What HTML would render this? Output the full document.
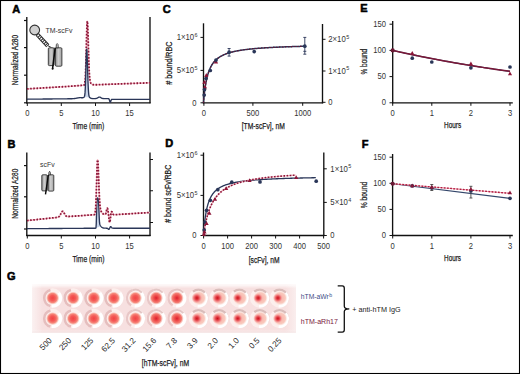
<!DOCTYPE html>
<html><head><meta charset="utf-8"><style>
html,body{margin:0;padding:0;background:#fff;}
svg{display:block;font-family:"Liberation Sans", sans-serif;}
</style></head><body>
<svg width="520" height="374" viewBox="0 0 520 374">
<rect width="520" height="374" fill="#fff"/>
<text x="12.20" y="12.60" font-size="11" text-anchor="start" fill="#000" font-weight="bold" stroke="#000" stroke-width="0.55">A</text>
<line x1="26.80" y1="17.00" x2="26.80" y2="103.20" stroke="#111" stroke-width="1.35" />
<line x1="26.20" y1="102.80" x2="150.60" y2="102.80" stroke="#111" stroke-width="1.35" />
<line x1="150.00" y1="17.00" x2="150.00" y2="103.20" stroke="#111" stroke-width="1.35" />
<line x1="24.00" y1="20.50" x2="27.00" y2="20.50" stroke="#111" stroke-width="1.2" />
<line x1="24.00" y1="47.60" x2="27.00" y2="47.60" stroke="#111" stroke-width="1.2" />
<line x1="24.00" y1="75.20" x2="27.00" y2="75.20" stroke="#111" stroke-width="1.2" />
<line x1="24.00" y1="102.80" x2="27.00" y2="102.80" stroke="#111" stroke-width="1.2" />
<line x1="27.30" y1="103.00" x2="27.30" y2="106.00" stroke="#111" stroke-width="1" />
<text transform="translate(27.30 116.00) scale(0.93 1)" font-size="8.2" text-anchor="middle" fill="#333" font-weight="normal" >0</text>
<line x1="61.30" y1="103.00" x2="61.30" y2="106.00" stroke="#111" stroke-width="1" />
<text transform="translate(61.30 116.00) scale(0.93 1)" font-size="8.2" text-anchor="middle" fill="#333" font-weight="normal" >5</text>
<line x1="95.50" y1="103.00" x2="95.50" y2="106.00" stroke="#111" stroke-width="1" />
<text transform="translate(95.50 116.00) scale(0.93 1)" font-size="8.2" text-anchor="middle" fill="#333" font-weight="normal" >10</text>
<line x1="129.60" y1="103.00" x2="129.60" y2="106.00" stroke="#111" stroke-width="1" />
<text transform="translate(129.60 116.00) scale(0.93 1)" font-size="8.2" text-anchor="middle" fill="#333" font-weight="normal" >15</text>
<text x="88.40" y="129.10" font-size="9.6" text-anchor="middle" fill="#1a1a1a" font-weight="normal" textLength="31.8" lengthAdjust="spacingAndGlyphs" stroke="#1a1a1a" stroke-width="0.25">Time (min)</text>
<text x="18.40" y="60.00" font-size="9.6" text-anchor="middle" fill="#1a1a1a" font-weight="normal" textLength="50.4" lengthAdjust="spacingAndGlyphs" transform="rotate(-90 18.40 60.00)" stroke="#1a1a1a" stroke-width="0.25">Normalized A280</text>
<path d="M27.00,88.90 L27.25,88.88 L27.50,88.87 L27.75,88.85 L28.00,88.84 L28.25,88.82 L28.50,88.81 L28.75,88.79 L29.00,88.78 L29.25,88.76 L29.50,88.75 L29.75,88.73 L30.00,88.72 L30.25,88.70 L30.50,88.69 L30.75,88.67 L31.00,88.66 L31.25,88.64 L31.50,88.63 L31.75,88.61 L32.00,88.60 L32.25,88.58 L32.50,88.57 L32.75,88.55 L33.00,88.54 L33.25,88.52 L33.50,88.51 L33.75,88.49 L34.00,88.48 L34.25,88.46 L34.50,88.45 L34.75,88.43 L35.00,88.42 L35.25,88.40 L35.50,88.39 L35.75,88.37 L36.00,88.36 L36.25,88.34 L36.50,88.33 L36.75,88.31 L37.00,88.30 L37.25,88.28 L37.50,88.27 L37.75,88.25 L38.00,88.23 L38.25,88.22 L38.50,88.20 L38.75,88.19 L39.00,88.17 L39.25,88.16 L39.50,88.14 L39.75,88.13 L40.00,88.11 L40.25,88.10 L40.50,88.08 L40.75,88.07 L41.00,88.05 L41.25,88.04 L41.50,88.02 L41.75,88.01 L42.00,87.99 L42.25,87.98 L42.50,87.96 L42.75,87.95 L43.00,87.93 L43.25,87.92 L43.50,87.90 L43.75,87.89 L44.00,87.87 L44.25,87.86 L44.50,87.84 L44.75,87.83 L45.00,87.81 L45.25,87.80 L45.50,87.78 L45.75,87.77 L46.00,87.75 L46.25,87.74 L46.50,87.72 L46.75,87.71 L47.00,87.69 L47.25,87.68 L47.50,87.66 L47.75,87.65 L48.00,87.63 L48.25,87.62 L48.50,87.60 L48.75,87.58 L49.00,87.57 L49.25,87.55 L49.50,87.54 L49.75,87.52 L50.00,87.51 L50.25,87.49 L50.50,87.48 L50.75,87.46 L51.00,87.45 L51.25,87.43 L51.50,87.42 L51.75,87.40 L52.00,87.39 L52.25,87.37 L52.50,87.36 L52.75,87.34 L53.00,87.33 L53.25,87.31 L53.50,87.30 L53.75,87.28 L54.00,87.27 L54.25,87.25 L54.50,87.24 L54.75,87.22 L55.00,87.21 L55.25,87.19 L55.50,87.18 L55.75,87.16 L56.00,87.15 L56.25,87.13 L56.50,87.12 L56.75,87.10 L57.00,87.09 L57.25,87.07 L57.50,87.06 L57.75,87.04 L58.00,87.03 L58.25,87.01 L58.50,87.00 L58.75,86.98 L59.00,86.97 L59.25,86.95 L59.50,86.93 L59.75,86.92 L60.00,86.90 L60.25,86.89 L60.50,86.87 L60.75,86.86 L61.00,86.84 L61.25,86.83 L61.50,86.81 L61.75,86.80 L62.00,86.78 L62.25,86.77 L62.50,86.75 L62.75,86.74 L63.00,86.72 L63.25,86.71 L63.50,86.69 L63.75,86.68 L64.00,86.66 L64.25,86.65 L64.50,86.63 L64.75,86.62 L65.00,86.60 L65.25,86.59 L65.50,86.57 L65.75,86.56 L66.00,86.54 L66.25,86.53 L66.50,86.51 L66.75,86.50 L67.00,86.48 L67.25,86.47 L67.50,86.45 L67.75,86.44 L68.00,86.42 L68.25,86.41 L68.50,86.39 L68.75,86.38 L69.00,86.36 L69.25,86.35 L69.50,86.33 L69.75,86.32 L70.00,86.30 L70.25,86.28 L70.50,86.26 L70.75,86.24 L71.00,86.22 L71.25,86.21 L71.50,86.19 L71.75,86.17 L72.00,86.15 L72.25,86.13 L72.50,86.11 L72.75,86.09 L73.00,86.08 L73.25,86.06 L73.50,86.04 L73.75,86.02 L74.00,86.00 L74.25,85.98 L74.50,85.96 L74.75,85.94 L75.00,85.92 L75.25,85.91 L75.50,85.89 L75.75,85.87 L76.00,85.85 L76.25,85.83 L76.50,85.81 L76.75,85.79 L77.00,85.77 L77.25,85.76 L77.50,85.74 L77.75,85.72 L78.00,85.70 L78.25,85.68 L78.50,85.66 L78.75,85.64 L79.00,85.62 L79.25,85.61 L79.50,85.59 L79.75,85.57 L80.00,85.55 L80.25,85.53 L80.50,85.51 L80.75,85.49 L81.00,85.47 L81.25,85.46 L81.50,85.44 L81.75,85.42 L82.00,85.40 L82.25,85.38 L82.50,85.36 L82.75,85.34 L83.00,85.32 L83.25,85.30 L83.50,85.27 L83.75,85.21 L84.00,85.10 L84.25,84.86 L84.50,84.38 L84.75,83.44 L85.00,81.75 L85.25,78.90 L85.50,74.48 L85.75,68.18 L86.00,59.97 L86.25,50.29 L86.50,40.12 L86.75,30.88 L87.00,24.11 L87.25,21.09 L87.50,22.17 L87.75,26.68 L88.00,33.82 L88.25,42.47 L88.50,51.41 L88.75,59.65 L89.00,66.58 L89.25,71.96 L89.50,75.86 L89.75,78.53 L90.00,80.30 L90.25,81.63 L90.50,82.40 L90.75,82.94 L91.00,83.33 L91.25,83.64 L91.50,83.89 L91.75,84.09 L92.00,84.26 L92.25,84.39 L92.50,84.50 L92.75,84.59 L93.00,84.65 L93.25,84.70 L93.50,84.73 L93.75,84.76 L94.00,84.77 L94.25,84.78 L94.50,84.79 L94.75,84.79 L95.00,84.79 L95.25,84.78 L95.50,84.78 L95.75,84.77 L96.00,84.76 L96.25,84.75 L96.50,84.74 L96.75,84.74 L97.00,84.73 L97.25,84.72 L97.50,84.71 L97.75,84.70 L98.00,84.69 L98.25,84.68 L98.50,84.67 L98.75,84.66 L99.00,84.65 L99.25,84.64 L99.50,84.64 L99.75,84.63 L100.00,84.62 L100.25,84.61 L100.50,84.60 L100.75,84.59 L101.00,84.58 L101.25,84.57 L101.50,84.56 L101.75,84.55 L102.00,84.54 L102.25,84.54 L102.50,84.53 L102.75,84.52 L103.00,84.51 L103.25,84.50 L103.50,84.49 L103.75,84.48 L104.00,84.47 L104.25,84.46 L104.50,84.45 L104.75,84.44 L105.00,84.43 L105.25,84.43 L105.50,84.42 L105.75,84.41 L106.00,84.40 L106.25,84.39 L106.50,84.38 L106.75,84.37 L107.00,84.36 L107.25,84.35 L107.50,84.34 L107.75,84.33 L108.00,84.33 L108.25,84.32 L108.50,84.31 L108.75,84.30 L109.00,84.29 L109.25,84.28 L109.50,84.27 L109.75,84.26 L110.00,84.25 L110.25,84.24 L110.50,84.23 L110.75,84.22 L111.00,84.22 L111.25,84.21 L111.50,84.20 L111.75,84.19 L112.00,84.18 L112.25,84.17 L112.50,84.16 L112.75,84.15 L113.00,84.14 L113.25,84.13 L113.50,84.12 L113.75,84.11 L114.00,84.11 L114.25,84.10 L114.50,84.09 L114.75,84.08 L115.00,84.07 L115.25,84.06 L115.50,84.05 L115.75,84.04 L116.00,84.03 L116.25,84.02 L116.50,84.01 L116.75,84.01 L117.00,84.00 L117.25,83.99 L117.50,83.98 L117.75,83.97 L118.00,83.96 L118.25,83.95 L118.50,83.94 L118.75,83.93 L119.00,83.92 L119.25,83.91 L119.50,83.90 L119.75,83.90 L120.00,83.89 L120.25,83.88 L120.50,83.87 L120.75,83.86 L121.00,83.85 L121.25,83.84 L121.50,83.83 L121.75,83.82 L122.00,83.81 L122.25,83.80 L122.50,83.80 L122.75,83.79 L123.00,83.78 L123.25,83.77 L123.50,83.76 L123.75,83.75 L124.00,83.74 L124.25,83.73 L124.50,83.72 L124.75,83.71 L125.00,83.70 L125.25,83.69 L125.50,83.69 L125.75,83.68 L126.00,83.67 L126.25,83.66 L126.50,83.65 L126.75,83.64 L127.00,83.63 L127.25,83.62 L127.50,83.61 L127.75,83.60 L128.00,83.59 L128.25,83.59 L128.50,83.58 L128.75,83.57 L129.00,83.56 L129.25,83.55 L129.50,83.54 L129.75,83.53 L130.00,83.52 L130.25,83.51 L130.50,83.50 L130.75,83.49 L131.00,83.48 L131.25,83.48 L131.50,83.47 L131.75,83.46 L132.00,83.45 L132.25,83.44 L132.50,83.43 L132.75,83.42 L133.00,83.41 L133.25,83.40 L133.50,83.39 L133.75,83.38 L134.00,83.38 L134.25,83.37 L134.50,83.36 L134.75,83.35 L135.00,83.34 L135.25,83.33 L135.50,83.32 L135.75,83.31 L136.00,83.30 L136.25,83.29 L136.50,83.28 L136.75,83.27 L137.00,83.27 L137.25,83.26 L137.50,83.25 L137.75,83.24 L138.00,83.23 L138.25,83.22 L138.50,83.21 L138.75,83.20 L139.00,83.19 L139.25,83.18 L139.50,83.17 L139.75,83.16 L140.00,83.16 L140.25,83.15 L140.50,83.14 L140.75,83.13 L141.00,83.12 L141.25,83.11 L141.50,83.10 L141.75,83.09 L142.00,83.08 L142.25,83.07 L142.50,83.06 L142.75,83.06 L143.00,83.05 L143.25,83.04 L143.50,83.03 L143.75,83.02 L144.00,83.01 L144.25,83.00 L144.50,82.99 L144.75,82.98 L145.00,82.97 L145.25,82.96 L145.50,82.95 L145.75,82.95 L146.00,82.94 L146.25,82.93 L146.50,82.92 L146.75,82.91 L147.00,82.90 L147.25,82.89 L147.50,82.88 L147.75,82.87 L148.00,82.86 L148.25,82.85 L148.50,82.85 L148.75,82.84 L149.00,82.83 L149.25,82.82 L149.50,82.81 L149.75,82.80 L150.00,82.79" stroke="#f3b4c0" stroke-width="1.35" fill="none" stroke-linejoin="round" />
<path d="M27.00,88.90 L27.25,88.88 L27.50,88.87 L27.75,88.85 L28.00,88.84 L28.25,88.82 L28.50,88.81 L28.75,88.79 L29.00,88.78 L29.25,88.76 L29.50,88.75 L29.75,88.73 L30.00,88.72 L30.25,88.70 L30.50,88.69 L30.75,88.67 L31.00,88.66 L31.25,88.64 L31.50,88.63 L31.75,88.61 L32.00,88.60 L32.25,88.58 L32.50,88.57 L32.75,88.55 L33.00,88.54 L33.25,88.52 L33.50,88.51 L33.75,88.49 L34.00,88.48 L34.25,88.46 L34.50,88.45 L34.75,88.43 L35.00,88.42 L35.25,88.40 L35.50,88.39 L35.75,88.37 L36.00,88.36 L36.25,88.34 L36.50,88.33 L36.75,88.31 L37.00,88.30 L37.25,88.28 L37.50,88.27 L37.75,88.25 L38.00,88.23 L38.25,88.22 L38.50,88.20 L38.75,88.19 L39.00,88.17 L39.25,88.16 L39.50,88.14 L39.75,88.13 L40.00,88.11 L40.25,88.10 L40.50,88.08 L40.75,88.07 L41.00,88.05 L41.25,88.04 L41.50,88.02 L41.75,88.01 L42.00,87.99 L42.25,87.98 L42.50,87.96 L42.75,87.95 L43.00,87.93 L43.25,87.92 L43.50,87.90 L43.75,87.89 L44.00,87.87 L44.25,87.86 L44.50,87.84 L44.75,87.83 L45.00,87.81 L45.25,87.80 L45.50,87.78 L45.75,87.77 L46.00,87.75 L46.25,87.74 L46.50,87.72 L46.75,87.71 L47.00,87.69 L47.25,87.68 L47.50,87.66 L47.75,87.65 L48.00,87.63 L48.25,87.62 L48.50,87.60 L48.75,87.58 L49.00,87.57 L49.25,87.55 L49.50,87.54 L49.75,87.52 L50.00,87.51 L50.25,87.49 L50.50,87.48 L50.75,87.46 L51.00,87.45 L51.25,87.43 L51.50,87.42 L51.75,87.40 L52.00,87.39 L52.25,87.37 L52.50,87.36 L52.75,87.34 L53.00,87.33 L53.25,87.31 L53.50,87.30 L53.75,87.28 L54.00,87.27 L54.25,87.25 L54.50,87.24 L54.75,87.22 L55.00,87.21 L55.25,87.19 L55.50,87.18 L55.75,87.16 L56.00,87.15 L56.25,87.13 L56.50,87.12 L56.75,87.10 L57.00,87.09 L57.25,87.07 L57.50,87.06 L57.75,87.04 L58.00,87.03 L58.25,87.01 L58.50,87.00 L58.75,86.98 L59.00,86.97 L59.25,86.95 L59.50,86.93 L59.75,86.92 L60.00,86.90 L60.25,86.89 L60.50,86.87 L60.75,86.86 L61.00,86.84 L61.25,86.83 L61.50,86.81 L61.75,86.80 L62.00,86.78 L62.25,86.77 L62.50,86.75 L62.75,86.74 L63.00,86.72 L63.25,86.71 L63.50,86.69 L63.75,86.68 L64.00,86.66 L64.25,86.65 L64.50,86.63 L64.75,86.62 L65.00,86.60 L65.25,86.59 L65.50,86.57 L65.75,86.56 L66.00,86.54 L66.25,86.53 L66.50,86.51 L66.75,86.50 L67.00,86.48 L67.25,86.47 L67.50,86.45 L67.75,86.44 L68.00,86.42 L68.25,86.41 L68.50,86.39 L68.75,86.38 L69.00,86.36 L69.25,86.35 L69.50,86.33 L69.75,86.32 L70.00,86.30 L70.25,86.28 L70.50,86.26 L70.75,86.24 L71.00,86.22 L71.25,86.21 L71.50,86.19 L71.75,86.17 L72.00,86.15 L72.25,86.13 L72.50,86.11 L72.75,86.09 L73.00,86.08 L73.25,86.06 L73.50,86.04 L73.75,86.02 L74.00,86.00 L74.25,85.98 L74.50,85.96 L74.75,85.94 L75.00,85.92 L75.25,85.91 L75.50,85.89 L75.75,85.87 L76.00,85.85 L76.25,85.83 L76.50,85.81 L76.75,85.79 L77.00,85.77 L77.25,85.76 L77.50,85.74 L77.75,85.72 L78.00,85.70 L78.25,85.68 L78.50,85.66 L78.75,85.64 L79.00,85.62 L79.25,85.61 L79.50,85.59 L79.75,85.57 L80.00,85.55 L80.25,85.53 L80.50,85.51 L80.75,85.49 L81.00,85.47 L81.25,85.46 L81.50,85.44 L81.75,85.42 L82.00,85.40 L82.25,85.38 L82.50,85.36 L82.75,85.34 L83.00,85.32 L83.25,85.30 L83.50,85.27 L83.75,85.21 L84.00,85.10 L84.25,84.86 L84.50,84.38 L84.75,83.44 L85.00,81.75 L85.25,78.90 L85.50,74.48 L85.75,68.18 L86.00,59.97 L86.25,50.29 L86.50,40.12 L86.75,30.88 L87.00,24.11 L87.25,21.09 L87.50,22.17 L87.75,26.68 L88.00,33.82 L88.25,42.47 L88.50,51.41 L88.75,59.65 L89.00,66.58 L89.25,71.96 L89.50,75.86 L89.75,78.53 L90.00,80.30 L90.25,81.63 L90.50,82.40 L90.75,82.94 L91.00,83.33 L91.25,83.64 L91.50,83.89 L91.75,84.09 L92.00,84.26 L92.25,84.39 L92.50,84.50 L92.75,84.59 L93.00,84.65 L93.25,84.70 L93.50,84.73 L93.75,84.76 L94.00,84.77 L94.25,84.78 L94.50,84.79 L94.75,84.79 L95.00,84.79 L95.25,84.78 L95.50,84.78 L95.75,84.77 L96.00,84.76 L96.25,84.75 L96.50,84.74 L96.75,84.74 L97.00,84.73 L97.25,84.72 L97.50,84.71 L97.75,84.70 L98.00,84.69 L98.25,84.68 L98.50,84.67 L98.75,84.66 L99.00,84.65 L99.25,84.64 L99.50,84.64 L99.75,84.63 L100.00,84.62 L100.25,84.61 L100.50,84.60 L100.75,84.59 L101.00,84.58 L101.25,84.57 L101.50,84.56 L101.75,84.55 L102.00,84.54 L102.25,84.54 L102.50,84.53 L102.75,84.52 L103.00,84.51 L103.25,84.50 L103.50,84.49 L103.75,84.48 L104.00,84.47 L104.25,84.46 L104.50,84.45 L104.75,84.44 L105.00,84.43 L105.25,84.43 L105.50,84.42 L105.75,84.41 L106.00,84.40 L106.25,84.39 L106.50,84.38 L106.75,84.37 L107.00,84.36 L107.25,84.35 L107.50,84.34 L107.75,84.33 L108.00,84.33 L108.25,84.32 L108.50,84.31 L108.75,84.30 L109.00,84.29 L109.25,84.28 L109.50,84.27 L109.75,84.26 L110.00,84.25 L110.25,84.24 L110.50,84.23 L110.75,84.22 L111.00,84.22 L111.25,84.21 L111.50,84.20 L111.75,84.19 L112.00,84.18 L112.25,84.17 L112.50,84.16 L112.75,84.15 L113.00,84.14 L113.25,84.13 L113.50,84.12 L113.75,84.11 L114.00,84.11 L114.25,84.10 L114.50,84.09 L114.75,84.08 L115.00,84.07 L115.25,84.06 L115.50,84.05 L115.75,84.04 L116.00,84.03 L116.25,84.02 L116.50,84.01 L116.75,84.01 L117.00,84.00 L117.25,83.99 L117.50,83.98 L117.75,83.97 L118.00,83.96 L118.25,83.95 L118.50,83.94 L118.75,83.93 L119.00,83.92 L119.25,83.91 L119.50,83.90 L119.75,83.90 L120.00,83.89 L120.25,83.88 L120.50,83.87 L120.75,83.86 L121.00,83.85 L121.25,83.84 L121.50,83.83 L121.75,83.82 L122.00,83.81 L122.25,83.80 L122.50,83.80 L122.75,83.79 L123.00,83.78 L123.25,83.77 L123.50,83.76 L123.75,83.75 L124.00,83.74 L124.25,83.73 L124.50,83.72 L124.75,83.71 L125.00,83.70 L125.25,83.69 L125.50,83.69 L125.75,83.68 L126.00,83.67 L126.25,83.66 L126.50,83.65 L126.75,83.64 L127.00,83.63 L127.25,83.62 L127.50,83.61 L127.75,83.60 L128.00,83.59 L128.25,83.59 L128.50,83.58 L128.75,83.57 L129.00,83.56 L129.25,83.55 L129.50,83.54 L129.75,83.53 L130.00,83.52 L130.25,83.51 L130.50,83.50 L130.75,83.49 L131.00,83.48 L131.25,83.48 L131.50,83.47 L131.75,83.46 L132.00,83.45 L132.25,83.44 L132.50,83.43 L132.75,83.42 L133.00,83.41 L133.25,83.40 L133.50,83.39 L133.75,83.38 L134.00,83.38 L134.25,83.37 L134.50,83.36 L134.75,83.35 L135.00,83.34 L135.25,83.33 L135.50,83.32 L135.75,83.31 L136.00,83.30 L136.25,83.29 L136.50,83.28 L136.75,83.27 L137.00,83.27 L137.25,83.26 L137.50,83.25 L137.75,83.24 L138.00,83.23 L138.25,83.22 L138.50,83.21 L138.75,83.20 L139.00,83.19 L139.25,83.18 L139.50,83.17 L139.75,83.16 L140.00,83.16 L140.25,83.15 L140.50,83.14 L140.75,83.13 L141.00,83.12 L141.25,83.11 L141.50,83.10 L141.75,83.09 L142.00,83.08 L142.25,83.07 L142.50,83.06 L142.75,83.06 L143.00,83.05 L143.25,83.04 L143.50,83.03 L143.75,83.02 L144.00,83.01 L144.25,83.00 L144.50,82.99 L144.75,82.98 L145.00,82.97 L145.25,82.96 L145.50,82.95 L145.75,82.95 L146.00,82.94 L146.25,82.93 L146.50,82.92 L146.75,82.91 L147.00,82.90 L147.25,82.89 L147.50,82.88 L147.75,82.87 L148.00,82.86 L148.25,82.85 L148.50,82.85 L148.75,82.84 L149.00,82.83 L149.25,82.82 L149.50,82.81 L149.75,82.80 L150.00,82.79" stroke="#8c1638" stroke-width="1.8" fill="none" stroke-dasharray="1.6 1.55" stroke-linejoin="round" />
<path d="M84.00,97.17 L84.25,96.85 L84.50,96.25 L84.75,95.09 L85.00,92.89 L85.25,89.06 L85.50,83.10 L85.75,75.00 L86.00,65.61 L86.25,56.75 L86.50,50.65 L86.75,49.10 L87.00,51.88 L87.25,57.94 L87.50,65.93 L87.75,74.27 L88.00,81.70 L88.25,87.54 L88.50,91.64 L88.75,94.27 L89.00,95.84 L89.25,96.74 L89.50,97.26 Z" fill="#c9d6ea" stroke="none"/>
<path d="M27.00,99.20 L27.25,99.20 L27.50,99.20 L27.75,99.19 L28.00,99.19 L28.25,99.19 L28.50,99.19 L28.75,99.18 L29.00,99.18 L29.25,99.18 L29.50,99.17 L29.75,99.17 L30.00,99.17 L30.25,99.17 L30.50,99.17 L30.75,99.16 L31.00,99.16 L31.25,99.16 L31.50,99.16 L31.75,99.15 L32.00,99.15 L32.25,99.15 L32.50,99.14 L32.75,99.14 L33.00,99.14 L33.25,99.14 L33.50,99.14 L33.75,99.13 L34.00,99.13 L34.25,99.13 L34.50,99.12 L34.75,99.12 L35.00,99.12 L35.25,99.12 L35.50,99.12 L35.75,99.11 L36.00,99.11 L36.25,99.11 L36.50,99.11 L36.75,99.10 L37.00,99.10 L37.25,99.10 L37.50,99.09 L37.75,99.09 L38.00,99.09 L38.25,99.09 L38.50,99.09 L38.75,99.08 L39.00,99.08 L39.25,99.08 L39.50,99.08 L39.75,99.07 L40.00,99.07 L40.25,99.07 L40.50,99.06 L40.75,99.06 L41.00,99.06 L41.25,99.06 L41.50,99.06 L41.75,99.05 L42.00,99.05 L42.25,99.05 L42.50,99.05 L42.75,99.04 L43.00,99.04 L43.25,99.04 L43.50,99.03 L43.75,99.03 L44.00,99.03 L44.25,99.03 L44.50,99.03 L44.75,99.02 L45.00,99.02 L45.25,99.02 L45.50,99.02 L45.75,99.01 L46.00,99.01 L46.25,99.01 L46.50,99.01 L46.75,99.00 L47.00,99.00 L47.25,99.00 L47.50,99.00 L47.75,98.99 L48.00,98.99 L48.25,98.99 L48.50,98.98 L48.75,98.98 L49.00,98.98 L49.25,98.98 L49.50,98.98 L49.75,98.97 L50.00,98.97 L50.25,98.97 L50.50,98.97 L50.75,98.96 L51.00,98.96 L51.25,98.96 L51.50,98.95 L51.75,98.95 L52.00,98.95 L52.25,98.95 L52.50,98.95 L52.75,98.94 L53.00,98.94 L53.25,98.94 L53.50,98.94 L53.75,98.93 L54.00,98.93 L54.25,98.93 L54.50,98.92 L54.75,98.92 L55.00,98.92 L55.25,98.92 L55.50,98.92 L55.75,98.91 L56.00,98.91 L56.25,98.91 L56.50,98.90 L56.75,98.90 L57.00,98.90 L57.25,98.90 L57.50,98.89 L57.75,98.89 L58.00,98.89 L58.25,98.89 L58.50,98.88 L58.75,98.88 L59.00,98.88 L59.25,98.88 L59.50,98.87 L59.75,98.87 L60.00,98.87 L60.25,98.87 L60.50,98.86 L60.75,98.86 L61.00,98.86 L61.25,98.86 L61.50,98.85 L61.75,98.85 L62.00,98.85 L62.25,98.85 L62.50,98.84 L62.75,98.84 L63.00,98.84 L63.25,98.84 L63.50,98.83 L63.75,98.83 L64.00,98.83 L64.25,98.83 L64.50,98.82 L64.75,98.82 L65.00,98.82 L65.25,98.82 L65.50,98.81 L65.75,98.81 L66.00,98.81 L66.25,98.81 L66.50,98.80 L66.75,98.80 L67.00,98.80 L67.25,98.80 L67.50,98.79 L67.75,98.79 L68.00,98.79 L68.25,98.79 L68.50,98.78 L68.75,98.78 L69.00,98.78 L69.25,98.78 L69.50,98.77 L69.75,98.77 L70.00,98.77 L70.25,98.76 L70.50,98.76 L70.75,98.75 L71.00,98.75 L71.25,98.74 L71.50,98.74 L71.75,98.73 L72.00,98.72 L72.25,98.71 L72.50,98.70 L72.75,98.69 L73.00,98.67 L73.25,98.66 L73.50,98.64 L73.75,98.62 L74.00,98.59 L74.25,98.57 L74.50,98.54 L74.75,98.51 L75.00,98.47 L75.25,98.43 L75.50,98.39 L75.75,98.35 L76.00,98.30 L76.25,98.25 L76.50,98.20 L76.75,98.15 L77.00,98.09 L77.25,98.04 L77.50,97.99 L77.75,97.94 L78.00,97.89 L78.25,97.84 L78.50,97.80 L78.75,97.77 L79.00,97.73 L79.25,97.71 L79.50,97.69 L79.75,97.67 L80.00,97.67 L80.25,97.67 L80.50,97.67 L80.75,97.68 L81.00,97.69 L81.25,97.71 L81.50,97.73 L81.75,97.74 L82.00,97.75 L82.25,97.75 L82.50,97.74 L82.75,97.72 L83.00,97.67 L83.25,97.60 L83.50,97.51 L83.75,97.37 L84.00,97.17 L84.25,96.85 L84.50,96.25 L84.75,95.09 L85.00,92.89 L85.25,89.06 L85.50,83.10 L85.75,75.00 L86.00,65.61 L86.25,56.75 L86.50,50.65 L86.75,49.10 L87.00,51.88 L87.25,57.94 L87.50,65.93 L87.75,74.27 L88.00,81.70 L88.25,87.54 L88.50,91.64 L88.75,94.27 L89.00,95.84 L89.25,96.74 L89.50,97.26 L89.75,97.58 L90.00,97.80 L90.25,97.97 L90.50,98.10 L90.75,98.21 L91.00,98.30 L91.25,98.37 L91.50,98.43 L91.75,98.48 L92.00,98.51 L92.25,98.54 L92.50,98.56 L92.75,98.57 L93.00,98.58 L93.25,98.59 L93.50,98.59 L93.75,98.59 L94.00,98.59 L94.25,98.59 L94.50,98.59 L94.75,98.59 L95.00,98.58 L95.25,98.57 L95.50,98.55 L95.75,98.52 L96.00,98.49 L96.25,98.43 L96.50,98.37 L96.75,98.28 L97.00,98.18 L97.25,98.06 L97.50,97.93 L97.75,97.78 L98.00,97.63 L98.25,97.48 L98.50,97.35 L98.75,97.23 L99.00,97.15 L99.25,97.11 L99.50,97.10 L99.75,97.14 L100.00,97.22 L100.25,97.32 L100.50,97.45 L100.75,97.60 L101.00,97.75 L101.25,97.90 L101.50,98.04 L101.75,98.16 L102.00,98.27 L102.25,98.35 L102.50,98.42 L102.75,98.48 L103.00,98.52 L103.25,98.54 L103.50,98.56 L103.75,98.58 L104.00,98.59 L104.25,98.59 L104.50,98.60 L104.75,98.60 L105.00,98.60 L105.25,98.60 L105.50,98.60 L105.75,98.60 L106.00,98.60 L106.25,98.60 L106.50,98.60 L106.75,98.60 L107.00,98.60 L107.25,98.60 L107.50,98.60 L107.75,98.60 L108.00,98.60 L108.25,98.62 L108.50,98.66 L108.75,98.79 L109.00,99.07 L109.25,99.60 L109.50,100.37 L109.75,101.24 L110.00,101.91 L110.25,102.29 L110.50,101.95 L110.75,101.27 L111.00,100.53 L111.25,99.95 L111.50,99.59 L111.75,99.41 L112.00,99.33 L112.25,99.31 L112.50,99.30 L112.75,99.30 L113.00,99.30 L113.25,99.30 L113.50,99.30 L113.75,99.30 L114.00,99.30 L114.25,99.30 L114.50,99.30 L114.75,99.30 L115.00,99.30 L115.25,99.30 L115.50,99.30 L115.75,99.30 L116.00,99.30 L116.25,99.30 L116.50,99.30 L116.75,99.30 L117.00,99.30 L117.25,99.30 L117.50,99.30 L117.75,99.30 L118.00,99.30 L118.25,99.30 L118.50,99.30 L118.75,99.30 L119.00,99.30 L119.25,99.30 L119.50,99.30 L119.75,99.30 L120.00,99.30 L120.25,99.30 L120.50,99.30 L120.75,99.30 L121.00,99.30 L121.25,99.30 L121.50,99.30 L121.75,99.30 L122.00,99.30 L122.25,99.30 L122.50,99.30 L122.75,99.30 L123.00,99.30 L123.25,99.30 L123.50,99.30 L123.75,99.30 L124.00,99.30 L124.25,99.30 L124.50,99.30 L124.75,99.30 L125.00,99.30 L125.25,99.30 L125.50,99.30 L125.75,99.30 L126.00,99.30 L126.25,99.30 L126.50,99.30 L126.75,99.30 L127.00,99.30 L127.25,99.30 L127.50,99.30 L127.75,99.30 L128.00,99.30 L128.25,99.30 L128.50,99.30 L128.75,99.30 L129.00,99.30 L129.25,99.30 L129.50,99.30 L129.75,99.30 L130.00,99.30 L130.25,99.30 L130.50,99.30 L130.75,99.30 L131.00,99.30 L131.25,99.30 L131.50,99.30 L131.75,99.30 L132.00,99.30 L132.25,99.30 L132.50,99.30 L132.75,99.30 L133.00,99.30 L133.25,99.30 L133.50,99.30 L133.75,99.30 L134.00,99.30 L134.25,99.30 L134.50,99.30 L134.75,99.30 L135.00,99.30 L135.25,99.30 L135.50,99.30 L135.75,99.30 L136.00,99.30 L136.25,99.30 L136.50,99.30 L136.75,99.30 L137.00,99.30 L137.25,99.30 L137.50,99.30 L137.75,99.30 L138.00,99.30 L138.25,99.30 L138.50,99.30 L138.75,99.30 L139.00,99.30 L139.25,99.30 L139.50,99.30 L139.75,99.30 L140.00,99.30 L140.25,99.30 L140.50,99.30 L140.75,99.30 L141.00,99.30 L141.25,99.30 L141.50,99.30 L141.75,99.30 L142.00,99.30 L142.25,99.30 L142.50,99.30 L142.75,99.30 L143.00,99.30 L143.25,99.30 L143.50,99.30 L143.75,99.30 L144.00,99.30 L144.25,99.30 L144.50,99.30 L144.75,99.30 L145.00,99.30 L145.25,99.30 L145.50,99.30 L145.75,99.30 L146.00,99.30 L146.25,99.30 L146.50,99.30 L146.75,99.30 L147.00,99.30 L147.25,99.30 L147.50,99.30 L147.75,99.30 L148.00,99.30 L148.25,99.30 L148.50,99.30 L148.75,99.30 L149.00,99.30 L149.25,99.30 L149.50,99.30 L149.75,99.30 L150.00,99.30" stroke="#2a3658" stroke-width="1.35" fill="none" stroke-linejoin="round" />
<g>
<circle cx="34.7" cy="30.0" r="4.9" fill="#d0d0d0" stroke="#333" stroke-width="1.1"/>
<line x1="37.2" y1="34.4" x2="47.8" y2="45.8" stroke="#2a2a2a" stroke-width="4.2"/>
<line x1="37.8" y1="35.1" x2="47.4" y2="45.4" stroke="#fff" stroke-width="2.2" stroke-dasharray="1.2 1.0"/>
<line x1="47.4" y1="45.4" x2="51.5" y2="47.6" stroke="#333" stroke-width="1"/>
<defs><linearGradient id="cg" x1="0" x2="1"><stop offset="0" stop-color="#8e8e8e"/><stop offset="0.45" stop-color="#d0d0d0"/><stop offset="1" stop-color="#a0a0a0"/></linearGradient></defs>
<rect x="48.3" y="47.8" width="5.8" height="17.8" rx="1" fill="url(#cg)" stroke="#333" stroke-width="0.9"/>
<rect x="55.4" y="47.8" width="6.5" height="18.4" rx="1" fill="url(#cg)" stroke="#333" stroke-width="0.9"/>
<path d="M56.1,47.8 L56.4,44.5 Q57.2,42.6 58.0,44.5 L58.3,47.8 Z" fill="#e4e4e4" stroke="#222" stroke-width="0.8"/>
<line x1="55.2" y1="47.6" x2="52.6" y2="68.6" stroke="#0a0a0a" stroke-width="1.5"/>
<circle cx="52.6" cy="68.8" r="1" fill="#111"/>
</g>
<text x="45.50" y="32.70" font-size="8" text-anchor="start" fill="#333" font-weight="normal" textLength="26.9" lengthAdjust="spacingAndGlyphs" >TM-scFv</text>
<text x="7.50" y="147.50" font-size="11" text-anchor="start" fill="#000" font-weight="bold" stroke="#000" stroke-width="0.55">B</text>
<line x1="26.80" y1="152.50" x2="26.80" y2="235.90" stroke="#111" stroke-width="1.35" />
<line x1="26.20" y1="235.50" x2="150.60" y2="235.50" stroke="#111" stroke-width="1.35" />
<line x1="150.00" y1="152.50" x2="150.00" y2="235.90" stroke="#111" stroke-width="1.35" />
<line x1="24.00" y1="165.60" x2="27.00" y2="165.60" stroke="#111" stroke-width="1.2" />
<line x1="24.00" y1="196.80" x2="27.00" y2="196.80" stroke="#111" stroke-width="1.2" />
<line x1="24.00" y1="229.00" x2="27.00" y2="229.00" stroke="#111" stroke-width="1.2" />
<line x1="150.00" y1="159.50" x2="153.00" y2="159.50" stroke="#111" stroke-width="1" />
<line x1="150.00" y1="190.75" x2="153.00" y2="190.75" stroke="#111" stroke-width="1" />
<line x1="150.00" y1="222.50" x2="153.00" y2="222.50" stroke="#111" stroke-width="1" />
<line x1="27.30" y1="235.50" x2="27.30" y2="238.50" stroke="#111" stroke-width="1" />
<text transform="translate(27.30 248.80) scale(0.93 1)" font-size="8.2" text-anchor="middle" fill="#333" font-weight="normal" >0</text>
<line x1="61.30" y1="235.50" x2="61.30" y2="238.50" stroke="#111" stroke-width="1" />
<text transform="translate(61.30 248.80) scale(0.93 1)" font-size="8.2" text-anchor="middle" fill="#333" font-weight="normal" >5</text>
<line x1="95.50" y1="235.50" x2="95.50" y2="238.50" stroke="#111" stroke-width="1" />
<text transform="translate(95.50 248.80) scale(0.93 1)" font-size="8.2" text-anchor="middle" fill="#333" font-weight="normal" >10</text>
<line x1="129.60" y1="235.50" x2="129.60" y2="238.50" stroke="#111" stroke-width="1" />
<text transform="translate(129.60 248.80) scale(0.93 1)" font-size="8.2" text-anchor="middle" fill="#333" font-weight="normal" >15</text>
<text x="88.50" y="262.00" font-size="9.6" text-anchor="middle" fill="#1a1a1a" font-weight="normal" textLength="32" lengthAdjust="spacingAndGlyphs" stroke="#1a1a1a" stroke-width="0.25">Time (min)</text>
<text x="18.40" y="193.70" font-size="9.6" text-anchor="middle" fill="#1a1a1a" font-weight="normal" textLength="50.0" lengthAdjust="spacingAndGlyphs" transform="rotate(-90 18.40 193.70)" stroke="#1a1a1a" stroke-width="0.25">Normalized A280</text>
<path d="M95.00,228.21 L95.25,228.21 L95.50,228.21 L95.75,228.17 L96.00,227.49 L96.25,223.68 L96.50,215.13 L96.75,205.79 L97.00,200.16 L97.25,198.26 L97.50,198.00 L97.75,198.02 L98.00,198.22 L98.25,199.10 L98.50,201.42 L98.75,205.83 L99.00,211.96 L99.25,218.05 L99.50,222.20 L99.75,224.10 L100.00,224.83 L100.25,225.27 L100.50,225.67 L100.75,226.03 L101.00,226.37 Z" fill="#c9d6ea" stroke="none"/>
<path d="M27.00,228.70 L27.25,228.70 L27.50,228.70 L27.75,228.69 L28.00,228.69 L28.25,228.69 L28.50,228.69 L28.75,228.69 L29.00,228.69 L29.25,228.68 L29.50,228.68 L29.75,228.68 L30.00,228.68 L30.25,228.68 L30.50,228.67 L30.75,228.67 L31.00,228.67 L31.25,228.67 L31.50,228.67 L31.75,228.67 L32.00,228.66 L32.25,228.66 L32.50,228.66 L32.75,228.66 L33.00,228.66 L33.25,228.66 L33.50,228.65 L33.75,228.65 L34.00,228.65 L34.25,228.65 L34.50,228.65 L34.75,228.64 L35.00,228.64 L35.25,228.64 L35.50,228.64 L35.75,228.64 L36.00,228.64 L36.25,228.63 L36.50,228.63 L36.75,228.63 L37.00,228.63 L37.25,228.63 L37.50,228.62 L37.75,228.62 L38.00,228.62 L38.25,228.62 L38.50,228.62 L38.75,228.62 L39.00,228.61 L39.25,228.61 L39.50,228.61 L39.75,228.61 L40.00,228.61 L40.25,228.61 L40.50,228.60 L40.75,228.60 L41.00,228.60 L41.25,228.60 L41.50,228.60 L41.75,228.59 L42.00,228.59 L42.25,228.59 L42.50,228.59 L42.75,228.59 L43.00,228.59 L43.25,228.58 L43.50,228.58 L43.75,228.58 L44.00,228.58 L44.25,228.58 L44.50,228.57 L44.75,228.57 L45.00,228.57 L45.25,228.57 L45.50,228.57 L45.75,228.57 L46.00,228.56 L46.25,228.56 L46.50,228.56 L46.75,228.56 L47.00,228.56 L47.25,228.56 L47.50,228.55 L47.75,228.55 L48.00,228.55 L48.25,228.55 L48.50,228.55 L48.75,228.54 L49.00,228.54 L49.25,228.54 L49.50,228.54 L49.75,228.54 L50.00,228.54 L50.25,228.53 L50.50,228.53 L50.75,228.53 L51.00,228.53 L51.25,228.53 L51.50,228.52 L51.75,228.52 L52.00,228.52 L52.25,228.52 L52.50,228.52 L52.75,228.52 L53.00,228.51 L53.25,228.51 L53.50,228.51 L53.75,228.51 L54.00,228.51 L54.25,228.51 L54.50,228.50 L54.75,228.50 L55.00,228.50 L55.25,228.50 L55.50,228.50 L55.75,228.49 L56.00,228.49 L56.25,228.49 L56.50,228.49 L56.75,228.49 L57.00,228.49 L57.25,228.48 L57.50,228.48 L57.75,228.48 L58.00,228.48 L58.25,228.48 L58.50,228.47 L58.75,228.47 L59.00,228.47 L59.25,228.47 L59.50,228.47 L59.75,228.47 L60.00,228.46 L60.25,228.46 L60.50,228.46 L60.75,228.46 L61.00,228.46 L61.25,228.46 L61.50,228.45 L61.75,228.45 L62.00,228.45 L62.25,228.45 L62.50,228.45 L62.75,228.44 L63.00,228.44 L63.25,228.44 L63.50,228.44 L63.75,228.44 L64.00,228.44 L64.25,228.43 L64.50,228.43 L64.75,228.43 L65.00,228.43 L65.25,228.43 L65.50,228.42 L65.75,228.42 L66.00,228.42 L66.25,228.42 L66.50,228.42 L66.75,228.42 L67.00,228.41 L67.25,228.41 L67.50,228.41 L67.75,228.41 L68.00,228.41 L68.25,228.41 L68.50,228.40 L68.75,228.40 L69.00,228.40 L69.25,228.40 L69.50,228.40 L69.75,228.39 L70.00,228.39 L70.25,228.39 L70.50,228.39 L70.75,228.39 L71.00,228.39 L71.25,228.38 L71.50,228.38 L71.75,228.38 L72.00,228.38 L72.25,228.38 L72.50,228.38 L72.75,228.37 L73.00,228.37 L73.25,228.37 L73.50,228.37 L73.75,228.37 L74.00,228.36 L74.25,228.36 L74.50,228.36 L74.75,228.36 L75.00,228.36 L75.25,228.36 L75.50,228.35 L75.75,228.35 L76.00,228.35 L76.25,228.35 L76.50,228.35 L76.75,228.34 L77.00,228.34 L77.25,228.34 L77.50,228.34 L77.75,228.34 L78.00,228.34 L78.25,228.33 L78.50,228.33 L78.75,228.33 L79.00,228.33 L79.25,228.33 L79.50,228.32 L79.75,228.32 L80.00,228.32 L80.25,228.32 L80.50,228.32 L80.75,228.32 L81.00,228.31 L81.25,228.31 L81.50,228.31 L81.75,228.31 L82.00,228.31 L82.25,228.31 L82.50,228.30 L82.75,228.30 L83.00,228.30 L83.25,228.30 L83.50,228.30 L83.75,228.29 L84.00,228.29 L84.25,228.29 L84.50,228.29 L84.75,228.29 L85.00,228.29 L85.25,228.28 L85.50,228.28 L85.75,228.28 L86.00,228.28 L86.25,228.28 L86.50,228.27 L86.75,228.27 L87.00,228.27 L87.25,228.27 L87.50,228.27 L87.75,228.27 L88.00,228.26 L88.25,228.26 L88.50,228.26 L88.75,228.26 L89.00,228.26 L89.25,228.26 L89.50,228.25 L89.75,228.25 L90.00,228.25 L90.25,228.25 L90.50,228.25 L90.75,228.24 L91.00,228.24 L91.25,228.24 L91.50,228.24 L91.75,228.24 L92.00,228.24 L92.25,228.23 L92.50,228.23 L92.75,228.23 L93.00,228.23 L93.25,228.23 L93.50,228.22 L93.75,228.22 L94.00,228.22 L94.25,228.22 L94.50,228.22 L94.75,228.22 L95.00,228.21 L95.25,228.21 L95.50,228.21 L95.75,228.17 L96.00,227.49 L96.25,223.68 L96.50,215.13 L96.75,205.79 L97.00,200.16 L97.25,198.26 L97.50,198.00 L97.75,198.02 L98.00,198.22 L98.25,199.10 L98.50,201.42 L98.75,205.83 L99.00,211.96 L99.25,218.05 L99.50,222.20 L99.75,224.10 L100.00,224.83 L100.25,225.27 L100.50,225.67 L100.75,226.03 L101.00,226.37 L101.25,226.67 L101.50,226.95 L101.75,227.18 L102.00,227.38 L102.25,227.55 L102.50,227.69 L102.75,227.81 L103.00,227.90 L103.25,227.98 L103.50,228.03 L103.75,228.08 L104.00,228.11 L104.25,228.14 L104.50,228.16 L104.75,228.17 L105.00,228.18 L105.25,228.19 L105.50,228.19 L105.75,228.19 L106.00,228.20 L106.25,228.20 L106.50,228.20 L106.75,228.22 L107.00,228.24 L107.25,228.30 L107.50,228.41 L107.75,228.59 L108.00,228.82 L108.25,229.08 L108.50,229.28 L108.75,229.36 L109.00,229.27 L109.25,228.99 L109.50,228.56 L109.75,228.04 L110.00,227.51 L110.25,227.04 L110.50,226.73 L110.75,226.63 L111.00,226.75 L111.25,227.03 L111.50,227.37 L111.75,227.68 L112.00,227.91 L112.25,228.06 L112.50,228.14 L112.75,228.18 L113.00,228.19 L113.25,228.20 L113.50,228.20 L113.75,228.20 L114.00,228.20 L114.25,228.20 L114.50,228.20 L114.75,228.20 L115.00,228.20 L115.25,228.20 L115.50,228.20 L115.75,228.20 L116.00,228.20 L116.25,228.20 L116.50,228.20 L116.75,228.20 L117.00,228.20 L117.25,228.20 L117.50,228.20 L117.75,228.20 L118.00,228.20 L118.25,228.20 L118.50,228.20 L118.75,228.20 L119.00,228.20 L119.25,228.20 L119.50,228.20 L119.75,228.20 L120.00,228.20 L120.25,228.20 L120.50,228.20 L120.75,228.20 L121.00,228.20 L121.25,228.20 L121.50,228.20 L121.75,228.20 L122.00,228.20 L122.25,228.20 L122.50,228.20 L122.75,228.20 L123.00,228.20 L123.25,228.20 L123.50,228.20 L123.75,228.20 L124.00,228.20 L124.25,228.20 L124.50,228.20 L124.75,228.20 L125.00,228.20 L125.25,228.20 L125.50,228.20 L125.75,228.20 L126.00,228.20 L126.25,228.20 L126.50,228.20 L126.75,228.20 L127.00,228.20 L127.25,228.20 L127.50,228.20 L127.75,228.20 L128.00,228.20 L128.25,228.20 L128.50,228.20 L128.75,228.20 L129.00,228.20 L129.25,228.20 L129.50,228.20 L129.75,228.20 L130.00,228.20 L130.25,228.20 L130.50,228.20 L130.75,228.20 L131.00,228.20 L131.25,228.20 L131.50,228.20 L131.75,228.20 L132.00,228.20 L132.25,228.20 L132.50,228.20 L132.75,228.20 L133.00,228.20 L133.25,228.20 L133.50,228.20 L133.75,228.20 L134.00,228.20 L134.25,228.20 L134.50,228.20 L134.75,228.20 L135.00,228.20 L135.25,228.20 L135.50,228.20 L135.75,228.20 L136.00,228.20 L136.25,228.20 L136.50,228.20 L136.75,228.20 L137.00,228.20 L137.25,228.20 L137.50,228.20 L137.75,228.20 L138.00,228.20 L138.25,228.20 L138.50,228.20 L138.75,228.20 L139.00,228.20 L139.25,228.20 L139.50,228.20 L139.75,228.20 L140.00,228.20 L140.25,228.20 L140.50,228.20 L140.75,228.20 L141.00,228.20 L141.25,228.20 L141.50,228.20 L141.75,228.20 L142.00,228.20 L142.25,228.20 L142.50,228.20 L142.75,228.20 L143.00,228.20 L143.25,228.20 L143.50,228.20 L143.75,228.20 L144.00,228.20 L144.25,228.20 L144.50,228.20 L144.75,228.20 L145.00,228.20 L145.25,228.20 L145.50,228.20 L145.75,228.20 L146.00,228.20 L146.25,228.20 L146.50,228.20 L146.75,228.20 L147.00,228.20 L147.25,228.20 L147.50,228.20 L147.75,228.20 L148.00,228.20 L148.25,228.20 L148.50,228.20 L148.75,228.20 L149.00,228.20 L149.25,228.20 L149.50,228.20 L149.75,228.20 L150.00,228.20" stroke="#2a3658" stroke-width="1.35" fill="none" stroke-linejoin="round" />
<path d="M27.00,220.60 L27.25,220.57 L27.50,220.55 L27.75,220.52 L28.00,220.49 L28.25,220.47 L28.50,220.44 L28.75,220.41 L29.00,220.39 L29.25,220.36 L29.50,220.33 L29.75,220.31 L30.00,220.28 L30.25,220.26 L30.50,220.23 L30.75,220.20 L31.00,220.18 L31.25,220.15 L31.50,220.12 L31.75,220.10 L32.00,220.07 L32.25,220.04 L32.50,220.02 L32.75,219.99 L33.00,219.96 L33.25,219.94 L33.50,219.91 L33.75,219.88 L34.00,219.86 L34.25,219.83 L34.50,219.80 L34.75,219.78 L35.00,219.75 L35.25,219.72 L35.50,219.70 L35.75,219.67 L36.00,219.65 L36.25,219.62 L36.50,219.59 L36.75,219.57 L37.00,219.54 L37.25,219.51 L37.50,219.49 L37.75,219.46 L38.00,219.43 L38.25,219.41 L38.50,219.38 L38.75,219.35 L39.00,219.33 L39.25,219.30 L39.50,219.27 L39.75,219.25 L40.00,219.22 L40.25,219.19 L40.50,219.17 L40.75,219.14 L41.00,219.12 L41.25,219.09 L41.50,219.06 L41.75,219.04 L42.00,219.01 L42.25,218.98 L42.50,218.96 L42.75,218.93 L43.00,218.90 L43.25,218.88 L43.50,218.85 L43.75,218.82 L44.00,218.80 L44.25,218.77 L44.50,218.74 L44.75,218.72 L45.00,218.69 L45.25,218.66 L45.50,218.64 L45.75,218.61 L46.00,218.58 L46.25,218.56 L46.50,218.53 L46.75,218.51 L47.00,218.48 L47.25,218.45 L47.50,218.43 L47.75,218.40 L48.00,218.37 L48.25,218.35 L48.50,218.32 L48.75,218.29 L49.00,218.27 L49.25,218.24 L49.50,218.21 L49.75,218.19 L50.00,218.16 L50.25,218.13 L50.50,218.11 L50.75,218.08 L51.00,218.05 L51.25,218.03 L51.50,218.00 L51.75,217.97 L52.00,217.95 L52.25,217.92 L52.50,217.90 L52.75,217.87 L53.00,217.84 L53.25,217.82 L53.50,217.79 L53.75,217.76 L54.00,217.74 L54.25,217.71 L54.50,217.68 L54.75,217.66 L55.00,217.63 L55.25,217.60 L55.50,217.58 L55.75,217.55 L56.00,217.52 L56.25,217.49 L56.50,217.46 L56.75,217.43 L57.00,217.39 L57.25,217.35 L57.50,217.30 L57.75,217.24 L58.00,217.17 L58.25,217.07 L58.50,216.95 L58.75,216.80 L59.00,216.61 L59.25,216.38 L59.50,216.09 L59.75,215.75 L60.00,215.36 L60.25,214.93 L60.50,214.45 L60.75,213.95 L61.00,213.44 L61.25,212.93 L61.50,212.45 L61.75,212.04 L62.00,211.70 L62.25,211.46 L62.50,211.34 L62.75,211.33 L63.00,211.45 L63.25,211.67 L63.50,211.99 L63.75,212.39 L64.00,212.84 L64.25,213.31 L64.50,213.79 L64.75,214.26 L65.00,214.69 L65.25,215.08 L65.50,215.42 L65.75,215.70 L66.00,215.93 L66.25,216.11 L66.50,216.25 L66.75,216.35 L67.00,216.42 L67.25,216.47 L67.50,216.50 L67.75,216.51 L68.00,216.52 L68.25,216.51 L68.50,216.50 L68.75,216.49 L69.00,216.48 L69.25,216.46 L69.50,216.45 L69.75,216.43 L70.00,216.41 L70.25,216.40 L70.50,216.38 L70.75,216.36 L71.00,216.35 L71.25,216.33 L71.50,216.31 L71.75,216.29 L72.00,216.28 L72.25,216.26 L72.50,216.24 L72.75,216.23 L73.00,216.21 L73.25,216.19 L73.50,216.17 L73.75,216.16 L74.00,216.14 L74.25,216.12 L74.50,216.11 L74.75,216.09 L75.00,216.07 L75.25,216.05 L75.50,216.04 L75.75,216.02 L76.00,216.00 L76.25,215.99 L76.50,215.97 L76.75,215.95 L77.00,215.93 L77.25,215.92 L77.50,215.90 L77.75,215.88 L78.00,215.87 L78.25,215.85 L78.50,215.83 L78.75,215.81 L79.00,215.80 L79.25,215.78 L79.50,215.76 L79.75,215.75 L80.00,215.73 L80.25,215.71 L80.50,215.69 L80.75,215.68 L81.00,215.66 L81.25,215.64 L81.50,215.63 L81.75,215.61 L82.00,215.59 L82.25,215.57 L82.50,215.56 L82.75,215.54 L83.00,215.52 L83.25,215.51 L83.50,215.49 L83.75,215.47 L84.00,215.45 L84.25,215.44 L84.50,215.42 L84.75,215.40 L85.00,215.39 L85.25,215.37 L85.50,215.35 L85.75,215.33 L86.00,215.32 L86.25,215.30 L86.50,215.28 L86.75,215.27 L87.00,215.25 L87.25,215.23 L87.50,215.21 L87.75,215.20 L88.00,215.18 L88.25,215.16 L88.50,215.15 L88.75,215.13 L89.00,215.11 L89.25,215.09 L89.50,215.08 L89.75,215.06 L90.00,215.04 L90.25,215.03 L90.50,215.01 L90.75,214.99 L91.00,214.97 L91.25,214.96 L91.50,214.94 L91.75,214.92 L92.00,214.91 L92.25,214.89 L92.50,214.87 L92.75,214.85 L93.00,214.84 L93.25,214.82 L93.50,214.80 L93.75,214.77 L94.00,214.73 L94.25,214.64 L94.50,214.47 L94.75,214.10 L95.00,213.40 L95.25,212.11 L95.50,209.90 L95.75,206.41 L96.00,201.33 L96.25,194.59 L96.50,186.46 L96.75,177.71 L97.00,169.48 L97.25,163.12 L97.50,159.80 L97.75,159.99 L98.00,162.88 L98.25,167.94 L98.50,174.41 L98.75,181.44 L99.00,188.25 L99.25,194.28 L99.50,199.23 L99.75,203.05 L100.00,205.85 L100.25,207.83 L100.50,209.22 L100.75,210.20 L101.00,210.93 L101.25,211.50 L101.50,211.96 L101.75,212.36 L102.00,212.72 L102.25,213.02 L102.50,213.30 L102.75,213.54 L103.00,213.74 L103.25,213.92 L103.50,214.07 L103.75,214.19 L104.00,214.30 L104.25,214.38 L104.50,214.44 L104.75,214.47 L105.00,214.45 L105.25,214.35 L105.50,214.10 L105.75,213.64 L106.00,212.92 L106.25,211.92 L106.50,210.73 L106.75,209.55 L107.00,208.63 L107.25,208.22 L107.50,208.45 L107.75,209.31 L108.00,210.68 L108.25,212.42 L108.50,214.43 L108.75,216.62 L109.00,218.86 L109.25,220.83 L109.50,222.13 L109.75,222.39 L110.00,221.53 L110.25,219.77 L110.50,217.58 L110.75,215.42 L111.00,213.63 L111.25,212.39 L111.50,211.72 L111.75,211.57 L112.00,211.82 L112.25,212.34 L112.50,212.95 L112.75,213.53 L113.00,214.09 L113.25,214.39 L113.50,214.57 L113.75,214.66 L114.00,214.70 L114.25,214.71 L114.50,214.70 L114.75,214.69 L115.00,214.68 L115.25,214.66 L115.50,214.64 L115.75,214.63 L116.00,214.61 L116.25,214.60 L116.50,214.58 L116.75,214.57 L117.00,214.55 L117.25,214.54 L117.50,214.52 L117.75,214.50 L118.00,214.49 L118.25,214.47 L118.50,214.46 L118.75,214.44 L119.00,214.43 L119.25,214.41 L119.50,214.40 L119.75,214.38 L120.00,214.36 L120.25,214.35 L120.50,214.33 L120.75,214.32 L121.00,214.30 L121.25,214.29 L121.50,214.27 L121.75,214.26 L122.00,214.24 L122.25,214.23 L122.50,214.21 L122.75,214.19 L123.00,214.18 L123.25,214.16 L123.50,214.15 L123.75,214.13 L124.00,214.12 L124.25,214.10 L124.50,214.09 L124.75,214.07 L125.00,214.05 L125.25,214.04 L125.50,214.02 L125.75,214.01 L126.00,213.99 L126.25,213.98 L126.50,213.96 L126.75,213.95 L127.00,213.93 L127.25,213.91 L127.50,213.90 L127.75,213.88 L128.00,213.87 L128.25,213.85 L128.50,213.84 L128.75,213.82 L129.00,213.81 L129.25,213.79 L129.50,213.77 L129.75,213.76 L130.00,213.74 L130.25,213.73 L130.50,213.71 L130.75,213.70 L131.00,213.68 L131.25,213.67 L131.50,213.65 L131.75,213.63 L132.00,213.62 L132.25,213.60 L132.50,213.59 L132.75,213.57 L133.00,213.56 L133.25,213.54 L133.50,213.53 L133.75,213.51 L134.00,213.49 L134.25,213.48 L134.50,213.46 L134.75,213.45 L135.00,213.43 L135.25,213.42 L135.50,213.40 L135.75,213.39 L136.00,213.37 L136.25,213.35 L136.50,213.34 L136.75,213.32 L137.00,213.31 L137.25,213.29 L137.50,213.28 L137.75,213.26 L138.00,213.25 L138.25,213.23 L138.50,213.21 L138.75,213.20 L139.00,213.18 L139.25,213.17 L139.50,213.15 L139.75,213.14 L140.00,213.12 L140.25,213.11 L140.50,213.09 L140.75,213.08 L141.00,213.06 L141.25,213.04 L141.50,213.03 L141.75,213.01 L142.00,213.00 L142.25,212.98 L142.50,212.97 L142.75,212.95 L143.00,212.94 L143.25,212.92 L143.50,212.90 L143.75,212.89 L144.00,212.87 L144.25,212.86 L144.50,212.84 L144.75,212.83 L145.00,212.81 L145.25,212.80 L145.50,212.78 L145.75,212.76 L146.00,212.75 L146.25,212.73 L146.50,212.72 L146.75,212.70 L147.00,212.69 L147.25,212.67 L147.50,212.66 L147.75,212.64 L148.00,212.62 L148.25,212.61 L148.50,212.59 L148.75,212.58 L149.00,212.56 L149.25,212.55 L149.50,212.53 L149.75,212.52 L150.00,212.50" stroke="#f3b4c0" stroke-width="1.35" fill="none" stroke-linejoin="round" />
<path d="M27.00,220.60 L27.25,220.57 L27.50,220.55 L27.75,220.52 L28.00,220.49 L28.25,220.47 L28.50,220.44 L28.75,220.41 L29.00,220.39 L29.25,220.36 L29.50,220.33 L29.75,220.31 L30.00,220.28 L30.25,220.26 L30.50,220.23 L30.75,220.20 L31.00,220.18 L31.25,220.15 L31.50,220.12 L31.75,220.10 L32.00,220.07 L32.25,220.04 L32.50,220.02 L32.75,219.99 L33.00,219.96 L33.25,219.94 L33.50,219.91 L33.75,219.88 L34.00,219.86 L34.25,219.83 L34.50,219.80 L34.75,219.78 L35.00,219.75 L35.25,219.72 L35.50,219.70 L35.75,219.67 L36.00,219.65 L36.25,219.62 L36.50,219.59 L36.75,219.57 L37.00,219.54 L37.25,219.51 L37.50,219.49 L37.75,219.46 L38.00,219.43 L38.25,219.41 L38.50,219.38 L38.75,219.35 L39.00,219.33 L39.25,219.30 L39.50,219.27 L39.75,219.25 L40.00,219.22 L40.25,219.19 L40.50,219.17 L40.75,219.14 L41.00,219.12 L41.25,219.09 L41.50,219.06 L41.75,219.04 L42.00,219.01 L42.25,218.98 L42.50,218.96 L42.75,218.93 L43.00,218.90 L43.25,218.88 L43.50,218.85 L43.75,218.82 L44.00,218.80 L44.25,218.77 L44.50,218.74 L44.75,218.72 L45.00,218.69 L45.25,218.66 L45.50,218.64 L45.75,218.61 L46.00,218.58 L46.25,218.56 L46.50,218.53 L46.75,218.51 L47.00,218.48 L47.25,218.45 L47.50,218.43 L47.75,218.40 L48.00,218.37 L48.25,218.35 L48.50,218.32 L48.75,218.29 L49.00,218.27 L49.25,218.24 L49.50,218.21 L49.75,218.19 L50.00,218.16 L50.25,218.13 L50.50,218.11 L50.75,218.08 L51.00,218.05 L51.25,218.03 L51.50,218.00 L51.75,217.97 L52.00,217.95 L52.25,217.92 L52.50,217.90 L52.75,217.87 L53.00,217.84 L53.25,217.82 L53.50,217.79 L53.75,217.76 L54.00,217.74 L54.25,217.71 L54.50,217.68 L54.75,217.66 L55.00,217.63 L55.25,217.60 L55.50,217.58 L55.75,217.55 L56.00,217.52 L56.25,217.49 L56.50,217.46 L56.75,217.43 L57.00,217.39 L57.25,217.35 L57.50,217.30 L57.75,217.24 L58.00,217.17 L58.25,217.07 L58.50,216.95 L58.75,216.80 L59.00,216.61 L59.25,216.38 L59.50,216.09 L59.75,215.75 L60.00,215.36 L60.25,214.93 L60.50,214.45 L60.75,213.95 L61.00,213.44 L61.25,212.93 L61.50,212.45 L61.75,212.04 L62.00,211.70 L62.25,211.46 L62.50,211.34 L62.75,211.33 L63.00,211.45 L63.25,211.67 L63.50,211.99 L63.75,212.39 L64.00,212.84 L64.25,213.31 L64.50,213.79 L64.75,214.26 L65.00,214.69 L65.25,215.08 L65.50,215.42 L65.75,215.70 L66.00,215.93 L66.25,216.11 L66.50,216.25 L66.75,216.35 L67.00,216.42 L67.25,216.47 L67.50,216.50 L67.75,216.51 L68.00,216.52 L68.25,216.51 L68.50,216.50 L68.75,216.49 L69.00,216.48 L69.25,216.46 L69.50,216.45 L69.75,216.43 L70.00,216.41 L70.25,216.40 L70.50,216.38 L70.75,216.36 L71.00,216.35 L71.25,216.33 L71.50,216.31 L71.75,216.29 L72.00,216.28 L72.25,216.26 L72.50,216.24 L72.75,216.23 L73.00,216.21 L73.25,216.19 L73.50,216.17 L73.75,216.16 L74.00,216.14 L74.25,216.12 L74.50,216.11 L74.75,216.09 L75.00,216.07 L75.25,216.05 L75.50,216.04 L75.75,216.02 L76.00,216.00 L76.25,215.99 L76.50,215.97 L76.75,215.95 L77.00,215.93 L77.25,215.92 L77.50,215.90 L77.75,215.88 L78.00,215.87 L78.25,215.85 L78.50,215.83 L78.75,215.81 L79.00,215.80 L79.25,215.78 L79.50,215.76 L79.75,215.75 L80.00,215.73 L80.25,215.71 L80.50,215.69 L80.75,215.68 L81.00,215.66 L81.25,215.64 L81.50,215.63 L81.75,215.61 L82.00,215.59 L82.25,215.57 L82.50,215.56 L82.75,215.54 L83.00,215.52 L83.25,215.51 L83.50,215.49 L83.75,215.47 L84.00,215.45 L84.25,215.44 L84.50,215.42 L84.75,215.40 L85.00,215.39 L85.25,215.37 L85.50,215.35 L85.75,215.33 L86.00,215.32 L86.25,215.30 L86.50,215.28 L86.75,215.27 L87.00,215.25 L87.25,215.23 L87.50,215.21 L87.75,215.20 L88.00,215.18 L88.25,215.16 L88.50,215.15 L88.75,215.13 L89.00,215.11 L89.25,215.09 L89.50,215.08 L89.75,215.06 L90.00,215.04 L90.25,215.03 L90.50,215.01 L90.75,214.99 L91.00,214.97 L91.25,214.96 L91.50,214.94 L91.75,214.92 L92.00,214.91 L92.25,214.89 L92.50,214.87 L92.75,214.85 L93.00,214.84 L93.25,214.82 L93.50,214.80 L93.75,214.77 L94.00,214.73 L94.25,214.64 L94.50,214.47 L94.75,214.10 L95.00,213.40 L95.25,212.11 L95.50,209.90 L95.75,206.41 L96.00,201.33 L96.25,194.59 L96.50,186.46 L96.75,177.71 L97.00,169.48 L97.25,163.12 L97.50,159.80 L97.75,159.99 L98.00,162.88 L98.25,167.94 L98.50,174.41 L98.75,181.44 L99.00,188.25 L99.25,194.28 L99.50,199.23 L99.75,203.05 L100.00,205.85 L100.25,207.83 L100.50,209.22 L100.75,210.20 L101.00,210.93 L101.25,211.50 L101.50,211.96 L101.75,212.36 L102.00,212.72 L102.25,213.02 L102.50,213.30 L102.75,213.54 L103.00,213.74 L103.25,213.92 L103.50,214.07 L103.75,214.19 L104.00,214.30 L104.25,214.38 L104.50,214.44 L104.75,214.47 L105.00,214.45 L105.25,214.35 L105.50,214.10 L105.75,213.64 L106.00,212.92 L106.25,211.92 L106.50,210.73 L106.75,209.55 L107.00,208.63 L107.25,208.22 L107.50,208.45 L107.75,209.31 L108.00,210.68 L108.25,212.42 L108.50,214.43 L108.75,216.62 L109.00,218.86 L109.25,220.83 L109.50,222.13 L109.75,222.39 L110.00,221.53 L110.25,219.77 L110.50,217.58 L110.75,215.42 L111.00,213.63 L111.25,212.39 L111.50,211.72 L111.75,211.57 L112.00,211.82 L112.25,212.34 L112.50,212.95 L112.75,213.53 L113.00,214.09 L113.25,214.39 L113.50,214.57 L113.75,214.66 L114.00,214.70 L114.25,214.71 L114.50,214.70 L114.75,214.69 L115.00,214.68 L115.25,214.66 L115.50,214.64 L115.75,214.63 L116.00,214.61 L116.25,214.60 L116.50,214.58 L116.75,214.57 L117.00,214.55 L117.25,214.54 L117.50,214.52 L117.75,214.50 L118.00,214.49 L118.25,214.47 L118.50,214.46 L118.75,214.44 L119.00,214.43 L119.25,214.41 L119.50,214.40 L119.75,214.38 L120.00,214.36 L120.25,214.35 L120.50,214.33 L120.75,214.32 L121.00,214.30 L121.25,214.29 L121.50,214.27 L121.75,214.26 L122.00,214.24 L122.25,214.23 L122.50,214.21 L122.75,214.19 L123.00,214.18 L123.25,214.16 L123.50,214.15 L123.75,214.13 L124.00,214.12 L124.25,214.10 L124.50,214.09 L124.75,214.07 L125.00,214.05 L125.25,214.04 L125.50,214.02 L125.75,214.01 L126.00,213.99 L126.25,213.98 L126.50,213.96 L126.75,213.95 L127.00,213.93 L127.25,213.91 L127.50,213.90 L127.75,213.88 L128.00,213.87 L128.25,213.85 L128.50,213.84 L128.75,213.82 L129.00,213.81 L129.25,213.79 L129.50,213.77 L129.75,213.76 L130.00,213.74 L130.25,213.73 L130.50,213.71 L130.75,213.70 L131.00,213.68 L131.25,213.67 L131.50,213.65 L131.75,213.63 L132.00,213.62 L132.25,213.60 L132.50,213.59 L132.75,213.57 L133.00,213.56 L133.25,213.54 L133.50,213.53 L133.75,213.51 L134.00,213.49 L134.25,213.48 L134.50,213.46 L134.75,213.45 L135.00,213.43 L135.25,213.42 L135.50,213.40 L135.75,213.39 L136.00,213.37 L136.25,213.35 L136.50,213.34 L136.75,213.32 L137.00,213.31 L137.25,213.29 L137.50,213.28 L137.75,213.26 L138.00,213.25 L138.25,213.23 L138.50,213.21 L138.75,213.20 L139.00,213.18 L139.25,213.17 L139.50,213.15 L139.75,213.14 L140.00,213.12 L140.25,213.11 L140.50,213.09 L140.75,213.08 L141.00,213.06 L141.25,213.04 L141.50,213.03 L141.75,213.01 L142.00,213.00 L142.25,212.98 L142.50,212.97 L142.75,212.95 L143.00,212.94 L143.25,212.92 L143.50,212.90 L143.75,212.89 L144.00,212.87 L144.25,212.86 L144.50,212.84 L144.75,212.83 L145.00,212.81 L145.25,212.80 L145.50,212.78 L145.75,212.76 L146.00,212.75 L146.25,212.73 L146.50,212.72 L146.75,212.70 L147.00,212.69 L147.25,212.67 L147.50,212.66 L147.75,212.64 L148.00,212.62 L148.25,212.61 L148.50,212.59 L148.75,212.58 L149.00,212.56 L149.25,212.55 L149.50,212.53 L149.75,212.52 L150.00,212.50" stroke="#8c1638" stroke-width="1.8" fill="none" stroke-dasharray="1.6 1.55" stroke-linejoin="round" />
<rect x="41.8" y="174.8" width="5.4" height="16.1" rx="1" fill="url(#cg)" stroke="#333" stroke-width="0.9"/>
<rect x="48.1" y="174.8" width="5.7" height="16.3" rx="1" fill="url(#cg)" stroke="#333" stroke-width="0.9"/>
<path d="M48.7,174.8 L49.0,172.2 Q49.6,170.4 50.2,172.2 L50.5,174.8 Z" fill="#e4e4e4" stroke="#222" stroke-width="0.8"/>
<line x1="48.3" y1="175" x2="45.5" y2="194.3" stroke="#0a0a0a" stroke-width="1.4"/>
<text x="40.00" y="166.90" font-size="7.4" text-anchor="start" fill="#333" font-weight="normal" textLength="14.6" lengthAdjust="spacingAndGlyphs" >scFv</text>
<text x="162.80" y="12.60" font-size="11" text-anchor="start" fill="#000" font-weight="bold" stroke="#000" stroke-width="0.55">C</text>
<line x1="203.50" y1="23.30" x2="203.50" y2="103.30" stroke="#111" stroke-width="1.35" />
<line x1="202.90" y1="102.80" x2="323.20" y2="102.80" stroke="#111" stroke-width="1.35" />
<line x1="322.50" y1="24.00" x2="322.50" y2="103.30" stroke="#111" stroke-width="1.35" />
<line x1="200.50" y1="37.40" x2="203.50" y2="37.40" stroke="#111" stroke-width="1" />
<text transform="translate(197.60 40.20) scale(0.94 1)" font-size="8.3" text-anchor="end" fill="#333">1×10<tspan font-size="5.8" dx="0.4" dy="-3.4">6</tspan></text>
<line x1="200.50" y1="70.40" x2="203.50" y2="70.40" stroke="#111" stroke-width="1" />
<text transform="translate(197.60 73.20) scale(0.94 1)" font-size="8.3" text-anchor="end" fill="#333">5×10<tspan font-size="5.8" dx="0.4" dy="-3.4">5</tspan></text>
<line x1="200.50" y1="102.80" x2="203.50" y2="102.80" stroke="#111" stroke-width="1" />
<text transform="translate(196.60 105.50) scale(0.93 1)" font-size="8.2" text-anchor="end" fill="#333" font-weight="normal" >0</text>
<line x1="322.50" y1="39.30" x2="325.50" y2="39.30" stroke="#111" stroke-width="1" />
<text transform="translate(328.20 42.10) scale(0.94 1)" font-size="8.3" text-anchor="start" fill="#333">2×10<tspan font-size="5.8" dx="0.4" dy="-3.4">5</tspan></text>
<line x1="322.50" y1="71.00" x2="325.50" y2="71.00" stroke="#111" stroke-width="1" />
<text transform="translate(328.20 73.80) scale(0.94 1)" font-size="8.3" text-anchor="start" fill="#333">1×10<tspan font-size="5.8" dx="0.4" dy="-3.4">5</tspan></text>
<line x1="322.50" y1="102.30" x2="325.50" y2="102.30" stroke="#111" stroke-width="1" />
<text transform="translate(328.20 105.00) scale(0.93 1)" font-size="8.2" text-anchor="start" fill="#333" font-weight="normal" >0</text>
<line x1="203.90" y1="102.80" x2="203.90" y2="105.80" stroke="#111" stroke-width="1" />
<text transform="translate(203.90 116.00) scale(0.93 1)" font-size="8.2" text-anchor="middle" fill="#333" font-weight="normal" >0</text>
<line x1="252.90" y1="102.80" x2="252.90" y2="105.80" stroke="#111" stroke-width="1" />
<text transform="translate(252.90 116.00) scale(0.93 1)" font-size="8.2" text-anchor="middle" fill="#333" font-weight="normal" >500</text>
<line x1="302.70" y1="102.80" x2="302.70" y2="105.80" stroke="#111" stroke-width="1" />
<text transform="translate(302.70 116.00) scale(0.93 1)" font-size="8.2" text-anchor="middle" fill="#333" font-weight="normal" >1000</text>
<text x="263.25" y="129.10" font-size="9.6" text-anchor="middle" fill="#1a1a1a" font-weight="normal" textLength="43.1" lengthAdjust="spacingAndGlyphs" stroke="#1a1a1a" stroke-width="0.25">[TM-scFv], nM</text>
<text x="171.60" y="63.20" font-size="9.6" text-anchor="middle" fill="#1a1a1a" font-weight="normal" textLength="43.2" lengthAdjust="spacingAndGlyphs" transform="rotate(-90 171.60 63.20)" stroke="#1a1a1a" stroke-width="0.25"># bound/RBC</text>
<path d="M203.50,102.80 L203.55,102.19 L203.60,101.59 L203.65,101.01 L203.70,100.43 L203.75,99.87 L203.80,99.32 L203.84,98.78 L203.89,98.25 L203.94,97.73 L203.99,97.22 L204.04,96.72 L204.09,96.22 L204.14,95.74 L204.19,95.27 L204.24,94.80 L204.29,94.34 L204.34,93.90 L204.39,93.45 L204.43,93.02 L204.48,92.60 L204.53,92.18 L204.58,91.77 L204.63,91.36 L204.68,90.96 L204.73,90.57 L204.78,90.19 L204.83,89.81 L204.88,89.44 L204.93,89.07 L204.98,88.71 L205.03,88.35 L205.07,88.00 L205.12,87.66 L205.17,87.32 L205.22,86.99 L205.27,86.66 L205.32,86.33 L205.37,86.02 L205.42,85.70 L205.47,85.39 L205.96,82.53 L206.45,80.04 L206.94,77.84 L207.44,75.90 L207.93,74.16 L208.42,72.60 L208.91,71.20 L209.40,69.92 L209.90,68.75 L210.39,67.69 L210.88,66.71 L211.37,65.81 L211.86,64.97 L212.36,64.20 L212.85,63.48 L213.34,62.81 L213.83,62.18 L214.32,61.59 L214.82,61.04 L215.31,60.52 L215.80,60.03 L216.29,59.57 L216.78,59.14 L217.28,58.72 L217.77,58.33 L218.26,57.96 L218.75,57.61 L219.24,57.27 L219.74,56.95 L220.23,56.64 L220.72,56.35 L221.21,56.07 L221.70,55.81 L222.20,55.55 L222.69,55.30 L223.18,55.07 L223.67,54.84 L224.16,54.62 L224.66,54.42 L225.15,54.21 L225.64,54.02 L226.13,53.83 L226.62,53.65 L227.12,53.48 L227.61,53.31 L228.10,53.15 L228.59,52.99 L229.08,52.84 L229.58,52.69 L230.07,52.55 L230.56,52.41 L231.05,52.27 L231.54,52.14 L232.04,52.02 L232.53,51.90 L233.02,51.78 L233.51,51.66 L234.00,51.55 L234.50,51.44 L234.99,51.33 L235.48,51.23 L235.97,51.13 L236.46,51.03 L236.96,50.94 L237.45,50.84 L237.94,50.75 L238.43,50.66 L238.92,50.58 L239.42,50.49 L239.91,50.41 L240.40,50.33 L240.89,50.25 L241.38,50.17 L241.88,50.10 L242.37,50.03 L242.86,49.95 L243.35,49.88 L243.84,49.82 L244.34,49.75 L244.83,49.68 L245.32,49.62 L245.81,49.56 L246.30,49.49 L246.80,49.43 L247.29,49.38 L247.78,49.32 L248.27,49.26 L248.76,49.21 L249.26,49.15 L249.75,49.10 L250.24,49.05 L250.73,48.99 L251.22,48.94 L251.72,48.89 L252.21,48.84 L252.70,48.80 L253.19,48.75 L253.68,48.70 L254.18,48.66 L254.67,48.61 L255.16,48.57 L255.65,48.53 L256.14,48.49 L256.64,48.44 L257.13,48.40 L257.62,48.36 L258.11,48.32 L258.60,48.29 L259.10,48.25 L259.59,48.21 L260.08,48.17 L260.57,48.14 L261.06,48.10 L261.56,48.07 L262.05,48.03 L262.54,48.00 L263.03,47.96 L263.52,47.93 L264.02,47.90 L264.51,47.87 L265.00,47.83 L265.49,47.80 L265.98,47.77 L266.48,47.74 L266.97,47.71 L267.46,47.68 L267.95,47.65 L268.44,47.63 L268.94,47.60 L269.43,47.57 L269.92,47.54 L270.41,47.52 L270.90,47.49 L271.40,47.46 L271.89,47.44 L272.38,47.41 L272.87,47.39 L273.36,47.36 L273.86,47.34 L274.35,47.31 L274.84,47.29 L275.33,47.26 L275.82,47.24 L276.32,47.22 L276.81,47.20 L277.30,47.17 L277.79,47.15 L278.28,47.13 L278.78,47.11 L279.27,47.09 L279.76,47.06 L280.25,47.04 L280.74,47.02 L281.24,47.00 L281.73,46.98 L282.22,46.96 L282.71,46.94 L283.20,46.92 L283.70,46.90 L284.19,46.89 L284.68,46.87 L285.17,46.85 L285.66,46.83 L286.16,46.81 L286.65,46.79 L287.14,46.78 L287.63,46.76 L288.12,46.74 L288.62,46.72 L289.11,46.71 L289.60,46.69 L290.09,46.67 L290.58,46.66 L291.08,46.64 L291.57,46.63 L292.06,46.61 L292.55,46.59 L293.04,46.58 L293.54,46.56 L294.03,46.55 L294.52,46.53 L295.01,46.52 L295.50,46.50 L296.00,46.49 L296.49,46.47 L296.98,46.46 L297.47,46.45 L297.96,46.43 L298.46,46.42 L298.95,46.40 L299.44,46.39 L299.93,46.38 L300.42,46.36 L300.92,46.35 L301.41,46.34 L301.90,46.32 L302.39,46.31 L302.88,46.30 L303.38,46.29 L303.87,46.27 L304.36,46.26 L304.85,46.25" stroke="#2a3658" stroke-width="1.5" fill="none" stroke-linejoin="round" />
<path d="M203.50,102.80 L203.55,102.19 L203.60,101.59 L203.65,101.01 L203.70,100.43 L203.75,99.87 L203.80,99.32 L203.84,98.78 L203.89,98.25 L203.94,97.73 L203.99,97.22 L204.04,96.72 L204.09,96.22 L204.14,95.74 L204.19,95.27 L204.24,94.80 L204.29,94.34 L204.34,93.90 L204.39,93.45 L204.43,93.02 L204.48,92.60 L204.53,92.18 L204.58,91.77 L204.63,91.36 L204.68,90.96 L204.73,90.57 L204.78,90.19 L204.83,89.81 L204.88,89.44 L204.93,89.07 L204.98,88.71 L205.03,88.35 L205.07,88.00 L205.12,87.66 L205.17,87.32 L205.22,86.99 L205.27,86.66 L205.32,86.33 L205.37,86.02 L205.42,85.70 L205.47,85.39 L205.96,82.53 L206.45,80.04 L206.94,77.84 L207.44,75.90 L207.93,74.16 L208.42,72.60 L208.91,71.20 L209.40,69.92 L209.90,68.75 L210.39,67.69 L210.88,66.71 L211.37,65.81 L211.86,64.97 L212.36,64.20 L212.85,63.48 L213.34,62.81 L213.83,62.18 L214.32,61.59 L214.82,61.04 L215.31,60.52 L215.80,60.03 L216.29,59.57 L216.78,59.14 L217.28,58.72 L217.77,58.33 L218.26,57.96 L218.75,57.61 L219.24,57.27 L219.74,56.95 L220.23,56.64 L220.72,56.35 L221.21,56.07 L221.70,55.81 L222.20,55.55 L222.69,55.30 L223.18,55.07 L223.67,54.84 L224.16,54.62 L224.66,54.42 L225.15,54.21 L225.64,54.02 L226.13,53.83 L226.62,53.65 L227.12,53.48 L227.61,53.31 L228.10,53.15 L228.59,52.99 L229.08,52.84 L229.58,52.69 L230.07,52.55 L230.56,52.41 L231.05,52.27 L231.54,52.14 L232.04,52.02 L232.53,51.90 L233.02,51.78 L233.51,51.66 L234.00,51.55 L234.50,51.44 L234.99,51.33 L235.48,51.23 L235.97,51.13 L236.46,51.03 L236.96,50.94 L237.45,50.84 L237.94,50.75 L238.43,50.66 L238.92,50.58 L239.42,50.49 L239.91,50.41 L240.40,50.33 L240.89,50.25 L241.38,50.17 L241.88,50.10 L242.37,50.03 L242.86,49.95 L243.35,49.88 L243.84,49.82 L244.34,49.75 L244.83,49.68 L245.32,49.62 L245.81,49.56 L246.30,49.49 L246.80,49.43 L247.29,49.38 L247.78,49.32 L248.27,49.26 L248.76,49.21 L249.26,49.15 L249.75,49.10 L250.24,49.05 L250.73,48.99 L251.22,48.94 L251.72,48.89 L252.21,48.84 L252.70,48.80 L253.19,48.75 L253.68,48.70 L254.18,48.66 L254.67,48.61 L255.16,48.57 L255.65,48.53 L256.14,48.49 L256.64,48.44 L257.13,48.40 L257.62,48.36 L258.11,48.32 L258.60,48.29 L259.10,48.25 L259.59,48.21 L260.08,48.17 L260.57,48.14 L261.06,48.10 L261.56,48.07 L262.05,48.03 L262.54,48.00 L263.03,47.96 L263.52,47.93 L264.02,47.90 L264.51,47.87 L265.00,47.83 L265.49,47.80 L265.98,47.77 L266.48,47.74 L266.97,47.71 L267.46,47.68 L267.95,47.65 L268.44,47.63 L268.94,47.60 L269.43,47.57 L269.92,47.54 L270.41,47.52 L270.90,47.49 L271.40,47.46 L271.89,47.44 L272.38,47.41 L272.87,47.39 L273.36,47.36 L273.86,47.34 L274.35,47.31 L274.84,47.29 L275.33,47.26 L275.82,47.24 L276.32,47.22 L276.81,47.20 L277.30,47.17 L277.79,47.15 L278.28,47.13 L278.78,47.11 L279.27,47.09 L279.76,47.06 L280.25,47.04 L280.74,47.02 L281.24,47.00 L281.73,46.98 L282.22,46.96 L282.71,46.94 L283.20,46.92 L283.70,46.90 L284.19,46.89 L284.68,46.87 L285.17,46.85 L285.66,46.83 L286.16,46.81 L286.65,46.79 L287.14,46.78 L287.63,46.76 L288.12,46.74 L288.62,46.72 L289.11,46.71 L289.60,46.69 L290.09,46.67 L290.58,46.66 L291.08,46.64 L291.57,46.63 L292.06,46.61 L292.55,46.59 L293.04,46.58 L293.54,46.56 L294.03,46.55 L294.52,46.53 L295.01,46.52 L295.50,46.50 L296.00,46.49 L296.49,46.47 L296.98,46.46 L297.47,46.45 L297.96,46.43 L298.46,46.42 L298.95,46.40 L299.44,46.39 L299.93,46.38 L300.42,46.36 L300.92,46.35 L301.41,46.34 L301.90,46.32 L302.39,46.31 L302.88,46.30 L303.38,46.29 L303.87,46.27 L304.36,46.26 L304.85,46.25" stroke="#6a1230" stroke-width="1.1" fill="none" stroke-dasharray="1.4 1.6" stroke-linejoin="round" />
<line x1="229.10" y1="48.50" x2="229.10" y2="56.10" stroke="#2a3658" stroke-width="0.9" />
<line x1="227.60" y1="48.50" x2="230.60" y2="48.50" stroke="#2a3658" stroke-width="0.9" />
<line x1="227.60" y1="56.10" x2="230.60" y2="56.10" stroke="#2a3658" stroke-width="0.9" />
<line x1="304.80" y1="37.40" x2="304.80" y2="54.20" stroke="#2a3658" stroke-width="0.9" />
<line x1="303.30" y1="37.40" x2="306.30" y2="37.40" stroke="#2a3658" stroke-width="0.9" />
<line x1="303.30" y1="54.20" x2="306.30" y2="54.20" stroke="#2a3658" stroke-width="0.9" />
<line x1="303.30" y1="51.30" x2="306.30" y2="51.30" stroke="#2a3658" stroke-width="0.9" />
<circle cx="254.20" cy="51.60" r="1.85" fill="#2a3658"/>
<circle cx="229.10" cy="52.20" r="1.85" fill="#2a3658"/>
<circle cx="304.80" cy="46.20" r="1.85" fill="#2a3658"/>
<path d="M216.00,59.60 L218.10,63.38 L213.90,63.38 Z" fill="#8c1638"/>
<circle cx="216.00" cy="60.10" r="1.85" fill="#2a3658"/>
<circle cx="210.30" cy="70.50" r="1.85" fill="#2a3658"/>
<path d="M206.30,73.10 L208.40,76.88 L204.20,76.88 Z" fill="#8c1638"/>
<circle cx="206.00" cy="78.50" r="1.85" fill="#2a3658"/>
<path d="M205.00,84.70 L207.10,88.48 L202.90,88.48 Z" fill="#8c1638"/>
<circle cx="204.50" cy="89.50" r="1.85" fill="#2a3658"/>
<circle cx="204.20" cy="95.00" r="1.85" fill="#2a3658"/>
<path d="M204.40,79.90 L206.50,83.68 L202.30,83.68 Z" fill="#8c1638"/>
<text x="165.30" y="147.00" font-size="11" text-anchor="start" fill="#000" font-weight="bold" stroke="#000" stroke-width="0.55">D</text>
<line x1="203.50" y1="152.50" x2="203.50" y2="236.00" stroke="#111" stroke-width="1.35" />
<line x1="202.90" y1="235.50" x2="324.40" y2="235.50" stroke="#111" stroke-width="1.35" />
<line x1="323.80" y1="152.40" x2="323.80" y2="236.00" stroke="#111" stroke-width="1.35" />
<line x1="200.50" y1="155.20" x2="203.50" y2="155.20" stroke="#111" stroke-width="1" />
<text transform="translate(197.60 158.00) scale(0.94 1)" font-size="8.3" text-anchor="end" fill="#333">1×10<tspan font-size="5.8" dx="0.4" dy="-3.4">6</tspan></text>
<line x1="200.50" y1="195.40" x2="203.50" y2="195.40" stroke="#111" stroke-width="1" />
<text transform="translate(197.60 198.20) scale(0.94 1)" font-size="8.3" text-anchor="end" fill="#333">5×10<tspan font-size="5.8" dx="0.4" dy="-3.4">5</tspan></text>
<line x1="200.50" y1="235.50" x2="203.50" y2="235.50" stroke="#111" stroke-width="1" />
<text transform="translate(196.60 238.20) scale(0.93 1)" font-size="8.2" text-anchor="end" fill="#333" font-weight="normal" >0</text>
<line x1="323.80" y1="168.80" x2="326.80" y2="168.80" stroke="#111" stroke-width="1" />
<text transform="translate(330.30 171.60) scale(0.94 1)" font-size="8.3" text-anchor="start" fill="#333">1×10<tspan font-size="5.8" dx="0.4" dy="-3.4">5</tspan></text>
<line x1="323.80" y1="202.40" x2="326.80" y2="202.40" stroke="#111" stroke-width="1" />
<text transform="translate(330.30 205.20) scale(0.94 1)" font-size="8.3" text-anchor="start" fill="#333">5×10<tspan font-size="5.8" dx="0.4" dy="-3.4">4</tspan></text>
<line x1="323.80" y1="235.50" x2="326.80" y2="235.50" stroke="#111" stroke-width="1" />
<text transform="translate(330.30 238.20) scale(0.93 1)" font-size="8.2" text-anchor="start" fill="#333" font-weight="normal" >0</text>
<line x1="203.60" y1="235.50" x2="203.60" y2="238.50" stroke="#111" stroke-width="1" />
<text transform="translate(203.60 249.00) scale(0.93 1)" font-size="8.2" text-anchor="middle" fill="#333" font-weight="normal" >0</text>
<line x1="227.60" y1="235.50" x2="227.60" y2="238.50" stroke="#111" stroke-width="1" />
<text transform="translate(227.60 249.00) scale(0.93 1)" font-size="8.2" text-anchor="middle" fill="#333" font-weight="normal" >100</text>
<line x1="251.60" y1="235.50" x2="251.60" y2="238.50" stroke="#111" stroke-width="1" />
<text transform="translate(251.60 249.00) scale(0.93 1)" font-size="8.2" text-anchor="middle" fill="#333" font-weight="normal" >200</text>
<line x1="275.60" y1="235.50" x2="275.60" y2="238.50" stroke="#111" stroke-width="1" />
<text transform="translate(275.60 249.00) scale(0.93 1)" font-size="8.2" text-anchor="middle" fill="#333" font-weight="normal" >300</text>
<line x1="299.60" y1="235.50" x2="299.60" y2="238.50" stroke="#111" stroke-width="1" />
<text transform="translate(299.60 249.00) scale(0.93 1)" font-size="8.2" text-anchor="middle" fill="#333" font-weight="normal" >400</text>
<line x1="323.60" y1="235.50" x2="323.60" y2="238.50" stroke="#111" stroke-width="1" />
<text transform="translate(323.60 249.00) scale(0.93 1)" font-size="8.2" text-anchor="middle" fill="#333" font-weight="normal" >500</text>
<text x="264.15" y="262.90" font-size="9.6" text-anchor="middle" fill="#1a1a1a" font-weight="normal" textLength="30.9" lengthAdjust="spacingAndGlyphs" stroke="#1a1a1a" stroke-width="0.25">[scFv], nM</text>
<text x="171.20" y="193.75" font-size="9.6" text-anchor="middle" fill="#1a1a1a" font-weight="normal" textLength="57.9" lengthAdjust="spacingAndGlyphs" transform="rotate(-90 171.20 193.75)" stroke="#1a1a1a" stroke-width="0.25"># bound scFv/RBC</text>
<path d="M203.50,235.50 L203.62,233.79 L203.74,232.17 L203.86,230.64 L203.98,229.19 L204.10,227.82 L204.22,226.52 L204.34,225.27 L204.46,224.09 L204.58,222.96 L204.70,221.89 L204.82,220.86 L204.94,219.87 L205.06,218.93 L205.18,218.03 L205.30,217.16 L205.42,216.33 L205.54,215.53 L205.66,214.77 L205.78,214.03 L205.90,213.32 L206.02,212.63 L206.14,211.97 L206.26,211.33 L206.38,210.71 L206.50,210.12 L206.62,209.54 L206.74,208.99 L206.86,208.45 L206.98,207.93 L207.10,207.42 L207.22,206.93 L207.34,206.46 L207.46,206.00 L207.58,205.55 L207.70,205.12 L207.82,204.70 L207.94,204.29 L208.06,203.89 L208.18,203.50 L208.30,203.12 L209.26,200.44 L210.22,198.23 L211.18,196.38 L212.14,194.81 L213.10,193.47 L214.06,192.29 L215.02,191.27 L215.98,190.36 L216.94,189.55 L217.90,188.83 L218.86,188.17 L219.82,187.58 L220.78,187.04 L221.74,186.55 L222.70,186.10 L223.66,185.68 L224.62,185.30 L225.58,184.94 L226.54,184.61 L227.50,184.31 L228.46,184.02 L229.42,183.75 L230.38,183.50 L231.34,183.26 L232.30,183.03 L233.26,182.82 L234.22,182.62 L235.18,182.44 L236.14,182.26 L237.10,182.09 L238.06,181.93 L239.02,181.77 L239.98,181.63 L240.94,181.49 L241.90,181.35 L242.86,181.23 L243.82,181.11 L244.78,180.99 L245.74,180.88 L246.70,180.77 L247.66,180.67 L248.62,180.57 L249.58,180.47 L250.54,180.38 L251.50,180.29 L252.46,180.21 L253.42,180.13 L254.38,180.05 L255.34,179.97 L256.30,179.90 L257.26,179.83 L258.22,179.76 L259.18,179.69 L260.14,179.63 L261.10,179.56 L262.06,179.50 L263.02,179.44 L263.98,179.39 L264.94,179.33 L265.90,179.28 L266.86,179.23 L267.82,179.17 L268.78,179.13 L269.74,179.08 L270.70,179.03 L271.66,178.98 L272.62,178.94 L273.58,178.90 L274.54,178.86 L275.50,178.81 L276.46,178.77 L277.42,178.74 L278.38,178.70 L279.34,178.66 L280.30,178.62 L281.26,178.59 L282.22,178.55 L283.18,178.52 L284.14,178.49 L285.10,178.45 L286.06,178.42 L287.02,178.39 L287.98,178.36 L288.94,178.33 L289.90,178.30 L290.86,178.27 L291.82,178.25 L292.78,178.22 L293.74,178.19 L294.70,178.17 L295.66,178.14 L296.62,178.12 L297.58,178.09 L298.54,178.07 L299.50,178.04 L300.46,178.02 L301.42,178.00 L302.38,177.98 L303.34,177.95 L304.30,177.93 L305.26,177.91 L306.22,177.89 L307.18,177.87 L308.14,177.85 L309.10,177.83 L310.06,177.81 L311.02,177.79 L311.98,177.77 L312.94,177.75 L313.90,177.74 L314.86,177.72 L315.82,177.70" stroke="#2a3658" stroke-width="1.3" fill="none" stroke-linejoin="round" />
<path d="M203.50,235.50 L203.62,234.64 L203.74,233.80 L203.86,232.98 L203.98,232.18 L204.10,231.41 L204.22,230.65 L204.34,229.91 L204.46,229.18 L204.58,228.48 L204.70,227.79 L204.82,227.11 L204.94,226.46 L205.06,225.81 L205.18,225.18 L205.30,224.57 L205.42,223.96 L205.54,223.38 L205.66,222.80 L205.78,222.23 L205.90,221.68 L206.02,221.14 L206.14,220.61 L206.26,220.09 L206.38,219.58 L206.50,219.08 L206.62,218.59 L206.74,218.11 L206.86,217.64 L206.98,217.18 L207.10,216.73 L207.22,216.28 L207.34,215.85 L207.46,215.42 L207.58,215.00 L207.70,214.59 L207.82,214.18 L207.94,213.78 L208.06,213.39 L208.18,213.01 L208.30,212.63 L209.26,209.82 L210.22,207.36 L211.18,205.18 L212.14,203.23 L213.10,201.48 L214.06,199.91 L215.02,198.48 L215.98,197.18 L216.94,195.98 L217.90,194.89 L218.86,193.88 L219.82,192.95 L220.78,192.08 L221.74,191.28 L222.70,190.53 L223.66,189.83 L224.62,189.17 L225.58,188.56 L226.54,187.98 L227.50,187.43 L228.46,186.92 L229.42,186.43 L230.38,185.97 L231.34,185.54 L232.30,185.12 L233.26,184.73 L234.22,184.35 L235.18,184.00 L236.14,183.66 L237.10,183.33 L238.06,183.02 L239.02,182.72 L239.98,182.44 L240.94,182.16 L241.90,181.90 L242.86,181.65 L243.82,181.41 L244.78,181.17 L245.74,180.95 L246.70,180.73 L247.66,180.52 L248.62,180.32 L249.58,180.13 L250.54,179.94 L251.50,179.76 L252.46,179.59 L253.42,179.42 L254.38,179.25 L255.34,179.09 L256.30,178.94 L257.26,178.79 L258.22,178.65 L259.18,178.51 L260.14,178.37 L261.10,178.24 L262.06,178.11 L263.02,177.98 L263.98,177.86 L264.94,177.74 L265.90,177.63 L266.86,177.52 L267.82,177.41 L268.78,177.30 L269.74,177.20 L270.70,177.10 L271.66,177.00 L272.62,176.90 L273.58,176.81 L274.54,176.72 L275.50,176.63 L276.46,176.54 L277.42,176.45 L278.38,176.37 L279.34,176.29 L280.30,176.21 L281.26,176.13 L282.22,176.06 L283.18,175.98 L284.14,175.91 L285.10,175.84 L286.06,175.77 L287.02,175.70 L287.98,175.63 L288.94,175.57 L289.90,175.50 L290.86,175.44 L291.82,175.38 L292.78,175.32 L293.74,175.26 L294.70,175.20 L295.66,175.14" stroke="#f3b4c0" stroke-width="1.2000000000000002" fill="none" stroke-linejoin="round" />
<path d="M203.50,235.50 L203.62,234.64 L203.74,233.80 L203.86,232.98 L203.98,232.18 L204.10,231.41 L204.22,230.65 L204.34,229.91 L204.46,229.18 L204.58,228.48 L204.70,227.79 L204.82,227.11 L204.94,226.46 L205.06,225.81 L205.18,225.18 L205.30,224.57 L205.42,223.96 L205.54,223.38 L205.66,222.80 L205.78,222.23 L205.90,221.68 L206.02,221.14 L206.14,220.61 L206.26,220.09 L206.38,219.58 L206.50,219.08 L206.62,218.59 L206.74,218.11 L206.86,217.64 L206.98,217.18 L207.10,216.73 L207.22,216.28 L207.34,215.85 L207.46,215.42 L207.58,215.00 L207.70,214.59 L207.82,214.18 L207.94,213.78 L208.06,213.39 L208.18,213.01 L208.30,212.63 L209.26,209.82 L210.22,207.36 L211.18,205.18 L212.14,203.23 L213.10,201.48 L214.06,199.91 L215.02,198.48 L215.98,197.18 L216.94,195.98 L217.90,194.89 L218.86,193.88 L219.82,192.95 L220.78,192.08 L221.74,191.28 L222.70,190.53 L223.66,189.83 L224.62,189.17 L225.58,188.56 L226.54,187.98 L227.50,187.43 L228.46,186.92 L229.42,186.43 L230.38,185.97 L231.34,185.54 L232.30,185.12 L233.26,184.73 L234.22,184.35 L235.18,184.00 L236.14,183.66 L237.10,183.33 L238.06,183.02 L239.02,182.72 L239.98,182.44 L240.94,182.16 L241.90,181.90 L242.86,181.65 L243.82,181.41 L244.78,181.17 L245.74,180.95 L246.70,180.73 L247.66,180.52 L248.62,180.32 L249.58,180.13 L250.54,179.94 L251.50,179.76 L252.46,179.59 L253.42,179.42 L254.38,179.25 L255.34,179.09 L256.30,178.94 L257.26,178.79 L258.22,178.65 L259.18,178.51 L260.14,178.37 L261.10,178.24 L262.06,178.11 L263.02,177.98 L263.98,177.86 L264.94,177.74 L265.90,177.63 L266.86,177.52 L267.82,177.41 L268.78,177.30 L269.74,177.20 L270.70,177.10 L271.66,177.00 L272.62,176.90 L273.58,176.81 L274.54,176.72 L275.50,176.63 L276.46,176.54 L277.42,176.45 L278.38,176.37 L279.34,176.29 L280.30,176.21 L281.26,176.13 L282.22,176.06 L283.18,175.98 L284.14,175.91 L285.10,175.84 L286.06,175.77 L287.02,175.70 L287.98,175.63 L288.94,175.57 L289.90,175.50 L290.86,175.44 L291.82,175.38 L292.78,175.32 L293.74,175.26 L294.70,175.20 L295.66,175.14" stroke="#8c1638" stroke-width="1.6" fill="none" stroke-dasharray="1.6 1.55" stroke-linejoin="round" />
<circle cx="231.80" cy="182.20" r="1.85" fill="#2a3658"/>
<circle cx="217.80" cy="189.70" r="1.85" fill="#2a3658"/>
<circle cx="210.30" cy="200.30" r="1.85" fill="#2a3658"/>
<circle cx="206.60" cy="210.30" r="1.85" fill="#2a3658"/>
<circle cx="260.00" cy="181.90" r="1.85" fill="#2a3658"/>
<circle cx="316.20" cy="181.20" r="1.85" fill="#2a3658"/>
<circle cx="205.00" cy="222.00" r="1.85" fill="#2a3658"/>
<circle cx="204.20" cy="230.00" r="1.85" fill="#2a3658"/>
<path d="M249.60,178.20 L251.70,181.98 L247.50,181.98 Z" fill="#8c1638"/>
<path d="M226.20,186.30 L228.30,190.08 L224.10,190.08 Z" fill="#8c1638"/>
<path d="M215.00,196.90 L217.10,200.68 L212.90,200.68 Z" fill="#8c1638"/>
<path d="M209.40,210.90 L211.50,214.68 L207.30,214.68 Z" fill="#8c1638"/>
<path d="M206.60,221.30 L208.70,225.08 L204.50,225.08 Z" fill="#8c1638"/>
<path d="M204.50,229.70 L206.60,233.48 L202.40,233.48 Z" fill="#8c1638"/>
<path d="M296.20,175.20 L298.30,178.98 L294.10,178.98 Z" fill="#8c1638"/>
<path d="M204.00,231.90 L206.10,235.68 L201.90,235.68 Z" fill="#8c1638"/>
<text x="360.30" y="12.20" font-size="11" text-anchor="start" fill="#000" font-weight="bold" stroke="#000" stroke-width="0.55">E</text>
<line x1="392.70" y1="20.90" x2="392.70" y2="103.30" stroke="#111" stroke-width="1.35" />
<line x1="392.10" y1="102.80" x2="512.80" y2="102.80" stroke="#111" stroke-width="1.35" />
<line x1="389.50" y1="102.80" x2="392.70" y2="102.80" stroke="#111" stroke-width="1" />
<text transform="translate(385.90 105.30) scale(0.93 1)" font-size="8.2" text-anchor="end" fill="#333" font-weight="normal" >0</text>
<line x1="389.50" y1="76.60" x2="392.70" y2="76.60" stroke="#111" stroke-width="1" />
<text transform="translate(385.90 79.10) scale(0.93 1)" font-size="8.2" text-anchor="end" fill="#333" font-weight="normal" >50</text>
<line x1="389.50" y1="50.40" x2="392.70" y2="50.40" stroke="#111" stroke-width="1" />
<text transform="translate(385.90 52.90) scale(0.93 1)" font-size="8.2" text-anchor="end" fill="#333" font-weight="normal" >100</text>
<line x1="389.50" y1="24.20" x2="392.70" y2="24.20" stroke="#111" stroke-width="1" />
<text transform="translate(385.90 26.70) scale(0.93 1)" font-size="8.2" text-anchor="end" fill="#333" font-weight="normal" >150</text>
<line x1="392.70" y1="102.80" x2="392.70" y2="105.80" stroke="#111" stroke-width="1" />
<text transform="translate(392.70 116.00) scale(0.93 1)" font-size="8.2" text-anchor="middle" fill="#333" font-weight="normal" >0</text>
<line x1="431.80" y1="102.80" x2="431.80" y2="105.80" stroke="#111" stroke-width="1" />
<text transform="translate(431.80 116.00) scale(0.93 1)" font-size="8.2" text-anchor="middle" fill="#333" font-weight="normal" >1</text>
<line x1="470.90" y1="102.80" x2="470.90" y2="105.80" stroke="#111" stroke-width="1" />
<text transform="translate(470.90 116.00) scale(0.93 1)" font-size="8.2" text-anchor="middle" fill="#333" font-weight="normal" >2</text>
<line x1="510.00" y1="102.80" x2="510.00" y2="105.80" stroke="#111" stroke-width="1" />
<text transform="translate(510.00 116.00) scale(0.93 1)" font-size="8.2" text-anchor="middle" fill="#333" font-weight="normal" >3</text>
<text x="452.55" y="127.80" font-size="9.6" text-anchor="middle" fill="#1a1a1a" font-weight="normal" textLength="17.1" lengthAdjust="spacingAndGlyphs" stroke="#1a1a1a" stroke-width="0.25">Hours</text>
<text x="367.30" y="61.70" font-size="9.6" text-anchor="middle" fill="#1a1a1a" font-weight="normal" textLength="25.6" lengthAdjust="spacingAndGlyphs" transform="rotate(-90 367.30 61.70)" stroke="#1a1a1a" stroke-width="0.25">% bound</text>
<path d="M392.70,50.40 L394.65,50.84 L396.61,51.28 L398.56,51.72 L400.52,52.15 L402.47,52.58 L404.43,53.01 L406.38,53.43 L408.34,53.85 L410.30,54.27 L412.25,54.68 L414.20,55.08 L416.16,55.49 L418.12,55.89 L420.07,56.29 L422.02,56.68 L423.98,57.07 L425.94,57.46 L427.89,57.85 L429.84,58.23 L431.80,58.60 L433.75,58.98 L435.71,59.35 L437.66,59.72 L439.62,60.08 L441.57,60.45 L443.53,60.81 L445.49,61.16 L447.44,61.51 L449.39,61.86 L451.35,62.21 L453.31,62.56 L455.26,62.90 L457.21,63.23 L459.17,63.57 L461.12,63.90 L463.08,64.23 L465.03,64.56 L466.99,64.88 L468.94,65.21 L470.90,65.52 L472.86,65.84 L474.81,66.15 L476.76,66.46 L478.72,66.77 L480.68,67.08 L482.63,67.38 L484.58,67.68 L486.54,67.98 L488.50,68.27 L490.45,68.57 L492.40,68.86 L494.36,69.14 L496.31,69.43 L498.27,69.71 L500.23,69.99 L502.18,70.27 L504.13,70.55 L506.09,70.82 L508.05,71.09 L510.00,71.36" stroke="#2a3658" stroke-width="1.3" fill="none" stroke-linejoin="round" />
<path d="M392.70,50.40 L394.65,50.84 L396.61,51.28 L398.56,51.72 L400.52,52.15 L402.47,52.58 L404.43,53.01 L406.38,53.43 L408.34,53.85 L410.30,54.27 L412.25,54.68 L414.20,55.08 L416.16,55.49 L418.12,55.89 L420.07,56.29 L422.02,56.68 L423.98,57.07 L425.94,57.46 L427.89,57.85 L429.84,58.23 L431.80,58.60 L433.75,58.98 L435.71,59.35 L437.66,59.72 L439.62,60.08 L441.57,60.45 L443.53,60.81 L445.49,61.16 L447.44,61.51 L449.39,61.86 L451.35,62.21 L453.31,62.56 L455.26,62.90 L457.21,63.23 L459.17,63.57 L461.12,63.90 L463.08,64.23 L465.03,64.56 L466.99,64.88 L468.94,65.21 L470.90,65.52 L472.86,65.84 L474.81,66.15 L476.76,66.46 L478.72,66.77 L480.68,67.08 L482.63,67.38 L484.58,67.68 L486.54,67.98 L488.50,68.27 L490.45,68.57 L492.40,68.86 L494.36,69.14 L496.31,69.43 L498.27,69.71 L500.23,69.99 L502.18,70.27 L504.13,70.55 L506.09,70.82 L508.05,71.09 L510.00,71.36" stroke="#7a1838" stroke-width="1.5" fill="none" stroke-linejoin="round" />
<circle cx="392.70" cy="50.40" r="2.1" fill="#6a1834"/>
<path d="M412.25,50.90 L414.35,54.68 L410.15,54.68 Z" fill="#8c1638"/>
<circle cx="412.25" cy="58.20" r="1.85" fill="#2a3658"/>
<circle cx="431.80" cy="62.00" r="1.85" fill="#2a3658"/>
<path d="M470.90,61.40 L473.00,65.18 L468.80,65.18 Z" fill="#8c1638"/>
<circle cx="470.90" cy="67.80" r="1.85" fill="#2a3658"/>
<circle cx="510.00" cy="67.00" r="1.85" fill="#2a3658"/>
<path d="M510.00,71.50 L512.10,75.28 L507.90,75.28 Z" fill="#8c1638"/>
<text x="361.80" y="147.60" font-size="11" text-anchor="start" fill="#000" font-weight="bold" stroke="#000" stroke-width="0.55">F</text>
<line x1="392.60" y1="154.00" x2="392.60" y2="236.00" stroke="#111" stroke-width="1.35" />
<line x1="392.00" y1="235.50" x2="512.80" y2="235.50" stroke="#111" stroke-width="1.35" />
<line x1="389.50" y1="235.50" x2="392.60" y2="235.50" stroke="#111" stroke-width="1" />
<text transform="translate(385.90 238.00) scale(0.93 1)" font-size="8.2" text-anchor="end" fill="#333" font-weight="normal" >0</text>
<line x1="389.50" y1="209.40" x2="392.60" y2="209.40" stroke="#111" stroke-width="1" />
<text transform="translate(385.90 211.90) scale(0.93 1)" font-size="8.2" text-anchor="end" fill="#333" font-weight="normal" >50</text>
<line x1="389.50" y1="183.30" x2="392.60" y2="183.30" stroke="#111" stroke-width="1" />
<text transform="translate(385.90 185.80) scale(0.93 1)" font-size="8.2" text-anchor="end" fill="#333" font-weight="normal" >100</text>
<line x1="389.50" y1="157.20" x2="392.60" y2="157.20" stroke="#111" stroke-width="1" />
<text transform="translate(385.90 159.70) scale(0.93 1)" font-size="8.2" text-anchor="end" fill="#333" font-weight="normal" >150</text>
<line x1="392.70" y1="235.50" x2="392.70" y2="238.50" stroke="#111" stroke-width="1" />
<text transform="translate(392.70 248.60) scale(0.93 1)" font-size="8.2" text-anchor="middle" fill="#333" font-weight="normal" >0</text>
<line x1="431.80" y1="235.50" x2="431.80" y2="238.50" stroke="#111" stroke-width="1" />
<text transform="translate(431.80 248.60) scale(0.93 1)" font-size="8.2" text-anchor="middle" fill="#333" font-weight="normal" >1</text>
<line x1="470.90" y1="235.50" x2="470.90" y2="238.50" stroke="#111" stroke-width="1" />
<text transform="translate(470.90 248.60) scale(0.93 1)" font-size="8.2" text-anchor="middle" fill="#333" font-weight="normal" >2</text>
<line x1="510.00" y1="235.50" x2="510.00" y2="238.50" stroke="#111" stroke-width="1" />
<text transform="translate(510.00 248.60) scale(0.93 1)" font-size="8.2" text-anchor="middle" fill="#333" font-weight="normal" >3</text>
<text x="452.55" y="260.60" font-size="9.6" text-anchor="middle" fill="#1a1a1a" font-weight="normal" textLength="16.9" lengthAdjust="spacingAndGlyphs" stroke="#1a1a1a" stroke-width="0.25">Hours</text>
<text x="367.30" y="195.00" font-size="9.6" text-anchor="middle" fill="#1a1a1a" font-weight="normal" textLength="26.4" lengthAdjust="spacingAndGlyphs" transform="rotate(-90 367.30 195.00)" stroke="#1a1a1a" stroke-width="0.25">% bound</text>
<path d="M392.70,183.75 L510.00,198.40" stroke="#33466a" stroke-width="1.2" fill="none" stroke-linejoin="round" />
<path d="M392.70,183.75 L510.00,193.30" stroke="#f0a0b0" stroke-width="1.0" fill="none" stroke-linejoin="round" />
<path d="M392.70,183.75 L510.00,193.30" stroke="#b01c40" stroke-width="1.4" fill="none" stroke-dasharray="1.8 1.4" stroke-linejoin="round" />
<line x1="431.80" y1="184.50" x2="431.80" y2="190.50" stroke="#444" stroke-width="0.9" />
<line x1="430.30" y1="184.50" x2="433.30" y2="184.50" stroke="#444" stroke-width="0.9" />
<line x1="430.30" y1="190.50" x2="433.30" y2="190.50" stroke="#444" stroke-width="0.9" />
<line x1="470.90" y1="186.30" x2="470.90" y2="198.00" stroke="#444" stroke-width="0.9" />
<line x1="469.40" y1="186.30" x2="472.40" y2="186.30" stroke="#444" stroke-width="0.9" />
<line x1="469.40" y1="198.00" x2="472.40" y2="198.00" stroke="#444" stroke-width="0.9" />
<circle cx="392.70" cy="183.75" r="2.1" fill="#6a1834"/>
<circle cx="412.25" cy="185.90" r="1.85" fill="#2a3658"/>
<path d="M412.25,183.50 L414.35,187.28 L410.15,187.28 Z" fill="#8c1638"/>
<circle cx="431.80" cy="188.00" r="1.85" fill="#2a3658"/>
<path d="M431.80,184.90 L433.90,188.68 L429.70,188.68 Z" fill="#8c1638"/>
<circle cx="470.90" cy="191.00" r="1.85" fill="#2a3658"/>
<path d="M470.90,186.90 L473.00,190.68 L468.80,190.68 Z" fill="#8c1638"/>
<circle cx="510.00" cy="198.30" r="1.85" fill="#2a3658"/>
<path d="M510.00,190.50 L512.10,194.28 L507.90,194.28 Z" fill="#8c1638"/>
<text x="6.90" y="279.90" font-size="11" text-anchor="start" fill="#000" font-weight="bold" stroke="#000" stroke-width="0.55">G</text>
<defs><radialGradient id="wr" cx="0.5" cy="0.5" r="0.5"><stop offset="0" stop-color="#f24444"/><stop offset="0.4" stop-color="#f45a58"/><stop offset="0.72" stop-color="#f68a7c"/><stop offset="1" stop-color="#fac4b4" stop-opacity="0"/></radialGradient><radialGradient id="wm" cx="0.5" cy="0.5" r="0.5"><stop offset="0" stop-color="#d82030"/><stop offset="0.3" stop-color="#ee4545"/><stop offset="0.7" stop-color="#f37e74"/><stop offset="1" stop-color="#f8c0b4" stop-opacity="0"/></radialGradient><radialGradient id="wd" cx="0.5" cy="0.5" r="0.5"><stop offset="0" stop-color="#c8101e"/><stop offset="0.3" stop-color="#e23c42"/><stop offset="0.65" stop-color="#f49090"/><stop offset="1" stop-color="#f8c0b8" stop-opacity="0"/></radialGradient><radialGradient id="disc" cx="0.5" cy="0.5" r="0.5"><stop offset="0" stop-color="#f7b2a8"/><stop offset="0.7" stop-color="#f9c8bc"/><stop offset="1" stop-color="#fde4dc" stop-opacity="0"/></radialGradient><radialGradient id="ring" cx="0.5" cy="0.5" r="0.5"><stop offset="0.55" stop-color="#fffafa"/><stop offset="0.78" stop-color="#f7eeee"/><stop offset="0.9" stop-color="#dcc4c4"/><stop offset="1" stop-color="#f1dada" stop-opacity="0"/></radialGradient></defs>
<filter id="pb" x="-5%" y="-10%" width="110%" height="120%"><feGaussianBlur stdDeviation="0.65"/></filter>
<g filter="url(#pb)">
<defs><linearGradient id="pl" x1="0" x2="1"><stop offset="0" stop-color="#fbf1f1"/><stop offset="0.04" stop-color="#f7e0e0"/><stop offset="0.96" stop-color="#f7e0e0"/><stop offset="1" stop-color="#faeeee"/></linearGradient><linearGradient id="plv" x1="0" x2="0" y1="0" y2="1"><stop offset="0" stop-color="#fff" stop-opacity="0.85"/><stop offset="0.08" stop-color="#fff" stop-opacity="0"/><stop offset="0.93" stop-color="#fff" stop-opacity="0"/><stop offset="1" stop-color="#f0e0e0" stop-opacity="0.6"/></linearGradient></defs>
<rect x="32" y="284.6" width="264" height="48" fill="url(#pl)"/>
<circle cx="52.60" cy="298.0" r="9.7" fill="#fcefed"/>
<path d="M50.43,306.11 A8.4,8.4 0 0 1 50.43,289.89" stroke="#e2b8b8" stroke-width="2.6" fill="none" opacity="0.9"/>
<path d="M58.73,292.86 A8.0,8.0 0 0 1 51.90,305.97" stroke="#ffffff" stroke-width="3.0" fill="none" opacity="1"/>
<circle cx="52.60" cy="298.0" r="6.6" fill="url(#wr)"/>
<circle cx="52.60" cy="318.5" r="9.7" fill="#fcefed"/>
<path d="M50.43,326.61 A8.4,8.4 0 0 1 50.43,310.39" stroke="#e2b8b8" stroke-width="2.6" fill="none" opacity="0.9"/>
<path d="M58.73,313.36 A8.0,8.0 0 0 1 51.90,326.47" stroke="#ffffff" stroke-width="3.0" fill="none" opacity="1"/>
<circle cx="52.60" cy="318.5" r="6.6" fill="url(#wr)"/>
<circle cx="73.10" cy="298.0" r="9.7" fill="#fcefed"/>
<path d="M70.93,306.11 A8.4,8.4 0 0 1 70.93,289.89" stroke="#e2b8b8" stroke-width="2.6" fill="none" opacity="0.9"/>
<path d="M79.23,292.86 A8.0,8.0 0 0 1 72.40,305.97" stroke="#ffffff" stroke-width="3.0" fill="none" opacity="1"/>
<circle cx="73.10" cy="298.0" r="6.6" fill="url(#wr)"/>
<circle cx="73.10" cy="318.5" r="9.7" fill="#fcefed"/>
<path d="M70.93,326.61 A8.4,8.4 0 0 1 70.93,310.39" stroke="#e2b8b8" stroke-width="2.6" fill="none" opacity="0.9"/>
<path d="M79.23,313.36 A8.0,8.0 0 0 1 72.40,326.47" stroke="#ffffff" stroke-width="3.0" fill="none" opacity="1"/>
<circle cx="73.10" cy="318.5" r="6.6" fill="url(#wr)"/>
<circle cx="93.80" cy="298.0" r="9.7" fill="#fcefed"/>
<path d="M91.63,306.11 A8.4,8.4 0 0 1 91.63,289.89" stroke="#e2b8b8" stroke-width="2.6" fill="none" opacity="0.9"/>
<path d="M99.93,292.86 A8.0,8.0 0 0 1 93.10,305.97" stroke="#ffffff" stroke-width="3.0" fill="none" opacity="1"/>
<circle cx="93.80" cy="298.0" r="6.6" fill="url(#wr)"/>
<circle cx="93.80" cy="318.5" r="9.7" fill="#fcefed"/>
<path d="M91.63,326.61 A8.4,8.4 0 0 1 91.63,310.39" stroke="#e2b8b8" stroke-width="2.6" fill="none" opacity="0.9"/>
<path d="M99.93,313.36 A8.0,8.0 0 0 1 93.10,326.47" stroke="#ffffff" stroke-width="3.0" fill="none" opacity="1"/>
<circle cx="93.80" cy="318.5" r="6.6" fill="url(#wr)"/>
<circle cx="113.80" cy="298.0" r="9.7" fill="#fcefed"/>
<path d="M111.63,306.11 A8.4,8.4 0 0 1 111.63,289.89" stroke="#e2b8b8" stroke-width="2.6" fill="none" opacity="0.9"/>
<path d="M119.93,292.86 A8.0,8.0 0 0 1 113.10,305.97" stroke="#ffffff" stroke-width="3.0" fill="none" opacity="1"/>
<circle cx="113.80" cy="298.0" r="6.6" fill="url(#wr)"/>
<circle cx="113.80" cy="318.5" r="9.7" fill="#fcefed"/>
<path d="M111.63,326.61 A8.4,8.4 0 0 1 111.63,310.39" stroke="#e2b8b8" stroke-width="2.6" fill="none" opacity="0.9"/>
<path d="M119.93,313.36 A8.0,8.0 0 0 1 113.10,326.47" stroke="#ffffff" stroke-width="3.0" fill="none" opacity="1"/>
<circle cx="113.80" cy="318.5" r="6.6" fill="url(#wr)"/>
<circle cx="135.40" cy="298.0" r="9.7" fill="#fcefed"/>
<path d="M131.20,305.27 A8.4,8.4 0 0 1 132.53,290.11" stroke="#e4c0c0" stroke-width="2.2" fill="none" opacity="0.85"/>
<path d="M132.53,290.11 A8.4,8.4 0 0 1 143.29,300.87" stroke="#dcbcba" stroke-width="1.8" fill="none" opacity="0.8"/>
<path d="M141.53,292.86 A8.0,8.0 0 0 1 134.70,305.97" stroke="#ffffff" stroke-width="3.0" fill="none" opacity="1"/>
<circle cx="135.40" cy="298.0" r="6.6" fill="url(#wr)"/>
<circle cx="135.40" cy="318.5" r="9.7" fill="#fcefed"/>
<path d="M131.20,325.77 A8.4,8.4 0 0 1 132.53,310.61" stroke="#e4c0c0" stroke-width="2.2" fill="none" opacity="0.85"/>
<path d="M132.53,310.61 A8.4,8.4 0 0 1 143.29,321.37" stroke="#dcbcba" stroke-width="1.8" fill="none" opacity="0.8"/>
<path d="M141.53,313.36 A8.0,8.0 0 0 1 134.70,326.47" stroke="#ffffff" stroke-width="3.0" fill="none" opacity="1"/>
<circle cx="135.40" cy="318.5" r="6.6" fill="url(#wr)"/>
<circle cx="156.20" cy="298.0" r="9.7" fill="#fcefed"/>
<path d="M152.00,305.27 A8.4,8.4 0 0 1 153.33,290.11" stroke="#e4c0c0" stroke-width="2.2" fill="none" opacity="0.85"/>
<path d="M153.33,290.11 A8.4,8.4 0 0 1 164.09,300.87" stroke="#dcbcba" stroke-width="1.8" fill="none" opacity="0.8"/>
<path d="M162.33,292.86 A8.0,8.0 0 0 1 155.50,305.97" stroke="#ffffff" stroke-width="3.0" fill="none" opacity="1"/>
<circle cx="156.20" cy="298.0" r="6.8" fill="url(#wm)"/>
<circle cx="156.20" cy="318.5" r="9.7" fill="#fcefed"/>
<path d="M152.00,325.77 A8.4,8.4 0 0 1 153.33,310.61" stroke="#e4c0c0" stroke-width="2.2" fill="none" opacity="0.85"/>
<path d="M153.33,310.61 A8.4,8.4 0 0 1 164.09,321.37" stroke="#dcbcba" stroke-width="1.8" fill="none" opacity="0.8"/>
<path d="M162.33,313.36 A8.0,8.0 0 0 1 155.50,326.47" stroke="#ffffff" stroke-width="3.0" fill="none" opacity="1"/>
<circle cx="156.20" cy="318.5" r="6.8" fill="url(#wm)"/>
<circle cx="176.90" cy="298.0" r="9.7" fill="#fcefed"/>
<path d="M172.70,305.27 A8.4,8.4 0 0 1 174.03,290.11" stroke="#e4c0c0" stroke-width="2.2" fill="none" opacity="0.85"/>
<path d="M174.03,290.11 A8.4,8.4 0 0 1 184.79,300.87" stroke="#dcbcba" stroke-width="1.8" fill="none" opacity="0.8"/>
<path d="M183.03,292.86 A8.0,8.0 0 0 1 176.20,305.97" stroke="#ffffff" stroke-width="3.0" fill="none" opacity="1"/>
<circle cx="176.90" cy="298.0" r="6.8" fill="url(#wm)"/>
<circle cx="176.90" cy="318.5" r="9.7" fill="#fcefed"/>
<path d="M172.70,325.77 A8.4,8.4 0 0 1 174.03,310.61" stroke="#e4c0c0" stroke-width="2.2" fill="none" opacity="0.85"/>
<path d="M174.03,310.61 A8.4,8.4 0 0 1 184.79,321.37" stroke="#dcbcba" stroke-width="1.8" fill="none" opacity="0.8"/>
<path d="M183.03,313.36 A8.0,8.0 0 0 1 176.20,326.47" stroke="#ffffff" stroke-width="3.0" fill="none" opacity="1"/>
<circle cx="176.90" cy="318.5" r="6.8" fill="url(#wm)"/>
<circle cx="198.40" cy="298.0" r="9.7" fill="#fcefed"/>
<path d="M193.00,291.57 A8.4,8.4 0 0 1 205.67,302.20" stroke="#d4b4b2" stroke-width="2.4" fill="none" opacity="0.85"/>
<path d="M204.53,292.86 A8.0,8.0 0 0 1 197.70,305.97" stroke="#ffffff" stroke-width="3.0" fill="none" opacity="1"/>
<circle cx="199.20" cy="298.0" r="7.4" fill="url(#disc)"/>
<circle cx="196.90" cy="298.0" r="5.6" fill="url(#wd)"/>
<circle cx="198.40" cy="318.5" r="9.7" fill="#fcefed"/>
<path d="M193.00,312.07 A8.4,8.4 0 0 1 205.67,322.70" stroke="#d4b4b2" stroke-width="2.4" fill="none" opacity="0.85"/>
<path d="M204.53,313.36 A8.0,8.0 0 0 1 197.70,326.47" stroke="#ffffff" stroke-width="3.0" fill="none" opacity="1"/>
<circle cx="199.20" cy="318.5" r="7.4" fill="url(#disc)"/>
<circle cx="196.90" cy="318.5" r="5.6" fill="url(#wd)"/>
<circle cx="219.00" cy="298.0" r="9.7" fill="#fcefed"/>
<path d="M213.60,291.57 A8.4,8.4 0 0 1 226.27,302.20" stroke="#d4b4b2" stroke-width="2.4" fill="none" opacity="0.85"/>
<path d="M225.13,292.86 A8.0,8.0 0 0 1 218.30,305.97" stroke="#ffffff" stroke-width="3.0" fill="none" opacity="1"/>
<circle cx="219.80" cy="298.0" r="7.4" fill="url(#disc)"/>
<circle cx="217.50" cy="298.0" r="5.6" fill="url(#wd)"/>
<circle cx="219.00" cy="318.5" r="9.7" fill="#fcefed"/>
<path d="M213.60,312.07 A8.4,8.4 0 0 1 226.27,322.70" stroke="#d4b4b2" stroke-width="2.4" fill="none" opacity="0.85"/>
<path d="M225.13,313.36 A8.0,8.0 0 0 1 218.30,326.47" stroke="#ffffff" stroke-width="3.0" fill="none" opacity="1"/>
<circle cx="219.80" cy="318.5" r="7.4" fill="url(#disc)"/>
<circle cx="217.50" cy="318.5" r="5.6" fill="url(#wd)"/>
<circle cx="239.30" cy="298.0" r="9.7" fill="#fcefed"/>
<path d="M233.90,291.57 A8.4,8.4 0 0 1 246.57,302.20" stroke="#d4b4b2" stroke-width="2.4" fill="none" opacity="0.85"/>
<path d="M245.43,292.86 A8.0,8.0 0 0 1 238.60,305.97" stroke="#ffffff" stroke-width="3.0" fill="none" opacity="1"/>
<circle cx="240.10" cy="298.0" r="7.4" fill="url(#disc)"/>
<circle cx="237.80" cy="298.0" r="5.0" fill="url(#wd)"/>
<circle cx="239.30" cy="318.5" r="9.7" fill="#fcefed"/>
<path d="M233.90,312.07 A8.4,8.4 0 0 1 246.57,322.70" stroke="#d4b4b2" stroke-width="2.4" fill="none" opacity="0.85"/>
<path d="M245.43,313.36 A8.0,8.0 0 0 1 238.60,326.47" stroke="#ffffff" stroke-width="3.0" fill="none" opacity="1"/>
<circle cx="240.10" cy="318.5" r="7.4" fill="url(#disc)"/>
<circle cx="237.80" cy="318.5" r="5.0" fill="url(#wd)"/>
<circle cx="259.70" cy="298.0" r="9.7" fill="#fcefed"/>
<path d="M254.30,291.57 A8.4,8.4 0 0 1 266.97,302.20" stroke="#d4b4b2" stroke-width="2.4" fill="none" opacity="0.85"/>
<path d="M265.83,292.86 A8.0,8.0 0 0 1 259.00,305.97" stroke="#ffffff" stroke-width="3.0" fill="none" opacity="1"/>
<circle cx="260.50" cy="298.0" r="7.4" fill="url(#disc)"/>
<circle cx="258.20" cy="298.0" r="5.0" fill="url(#wd)"/>
<circle cx="259.70" cy="318.5" r="9.7" fill="#fcefed"/>
<path d="M254.30,312.07 A8.4,8.4 0 0 1 266.97,322.70" stroke="#d4b4b2" stroke-width="2.4" fill="none" opacity="0.85"/>
<path d="M265.83,313.36 A8.0,8.0 0 0 1 259.00,326.47" stroke="#ffffff" stroke-width="3.0" fill="none" opacity="1"/>
<circle cx="260.50" cy="318.5" r="7.4" fill="url(#disc)"/>
<circle cx="258.20" cy="318.5" r="5.0" fill="url(#wd)"/>
<circle cx="279.40" cy="298.0" r="9.7" fill="#fcefed"/>
<path d="M274.00,291.57 A8.4,8.4 0 0 1 286.67,302.20" stroke="#d4b4b2" stroke-width="2.4" fill="none" opacity="0.85"/>
<path d="M285.53,292.86 A8.0,8.0 0 0 1 278.70,305.97" stroke="#ffffff" stroke-width="3.0" fill="none" opacity="1"/>
<circle cx="280.20" cy="298.0" r="7.4" fill="url(#disc)"/>
<circle cx="277.90" cy="298.0" r="5.0" fill="url(#wd)"/>
<circle cx="279.40" cy="318.5" r="9.7" fill="#fcefed"/>
<path d="M274.00,312.07 A8.4,8.4 0 0 1 286.67,322.70" stroke="#d4b4b2" stroke-width="2.4" fill="none" opacity="0.85"/>
<path d="M285.53,313.36 A8.0,8.0 0 0 1 278.70,326.47" stroke="#ffffff" stroke-width="3.0" fill="none" opacity="1"/>
<circle cx="280.20" cy="318.5" r="7.4" fill="url(#disc)"/>
<circle cx="277.90" cy="318.5" r="5.0" fill="url(#wd)"/>
<rect x="32" y="284.6" width="264" height="48" fill="url(#plv)"/>
</g>
<text x="52.40" y="340.80" font-size="8.2" text-anchor="end" fill="#1e1e1e" font-weight="normal" transform="rotate(-47 52.40 340.80)" >500</text>
<text x="71.75" y="340.80" font-size="8.2" text-anchor="end" fill="#1e1e1e" font-weight="normal" transform="rotate(-47 71.75 340.80)" >250</text>
<text x="93.90" y="340.80" font-size="8.2" text-anchor="end" fill="#1e1e1e" font-weight="normal" transform="rotate(-47 93.90 340.80)" >125</text>
<text x="115.65" y="340.80" font-size="8.2" text-anchor="end" fill="#1e1e1e" font-weight="normal" transform="rotate(-47 115.65 340.80)" >62.5</text>
<text x="136.00" y="340.80" font-size="8.2" text-anchor="end" fill="#1e1e1e" font-weight="normal" transform="rotate(-47 136.00 340.80)" >31.2</text>
<text x="156.75" y="340.80" font-size="8.2" text-anchor="end" fill="#1e1e1e" font-weight="normal" transform="rotate(-47 156.75 340.80)" >15.6</text>
<text x="177.50" y="340.80" font-size="8.2" text-anchor="end" fill="#1e1e1e" font-weight="normal" transform="rotate(-47 177.50 340.80)" >7.8</text>
<text x="198.25" y="340.80" font-size="8.2" text-anchor="end" fill="#1e1e1e" font-weight="normal" transform="rotate(-47 198.25 340.80)" >3.9</text>
<text x="218.70" y="340.80" font-size="8.2" text-anchor="end" fill="#1e1e1e" font-weight="normal" transform="rotate(-47 218.70 340.80)" >2.0</text>
<text x="239.65" y="340.80" font-size="8.2" text-anchor="end" fill="#1e1e1e" font-weight="normal" transform="rotate(-47 239.65 340.80)" >1.0</text>
<text x="260.00" y="340.80" font-size="8.2" text-anchor="end" fill="#1e1e1e" font-weight="normal" transform="rotate(-47 260.00 340.80)" >0.5</text>
<text x="282.05" y="340.80" font-size="8.2" text-anchor="end" fill="#1e1e1e" font-weight="normal" transform="rotate(-47 282.05 340.80)" >0.25</text>
<text x="165.45" y="365.50" font-size="9.6" text-anchor="middle" fill="#1a1a1a" font-weight="normal" textLength="47.3" lengthAdjust="spacingAndGlyphs" stroke="#1a1a1a" stroke-width="0.25">[hTM-scFv], nM</text>
<text x="300.8" y="299.3" font-size="7.9" fill="#3d4c85" textLength="28" lengthAdjust="spacingAndGlyphs">hTM-aWr</text>
<text x="329.2" y="296.6" font-size="5.2" fill="#3d4c85">b</text>
<text x="300.8" y="323.8" font-size="7.9" fill="#7a2040" textLength="37.1" lengthAdjust="spacingAndGlyphs">hTM-aRh17</text>
<path d="M337.7,285.9 L342.3,285.9 Q344.3,285.9 344.3,288.2 L344.3,306.2 Q344.3,308.9 349.3,308.9 Q344.3,308.9 344.3,311.6 L344.3,329.8 Q344.3,332.1 342.3,332.1 L337.7,332.1" stroke="#111" stroke-width="1.3" fill="none"/>
<text x="352.20" y="312.20" font-size="7.3" text-anchor="start" fill="#222" font-weight="normal" textLength="48.5" lengthAdjust="spacingAndGlyphs" >+ anti-hTM IgG</text>
<rect x="0.5" y="0.5" width="519" height="373" fill="none" stroke="#000" stroke-width="1.1"/>
</svg></body></html>
